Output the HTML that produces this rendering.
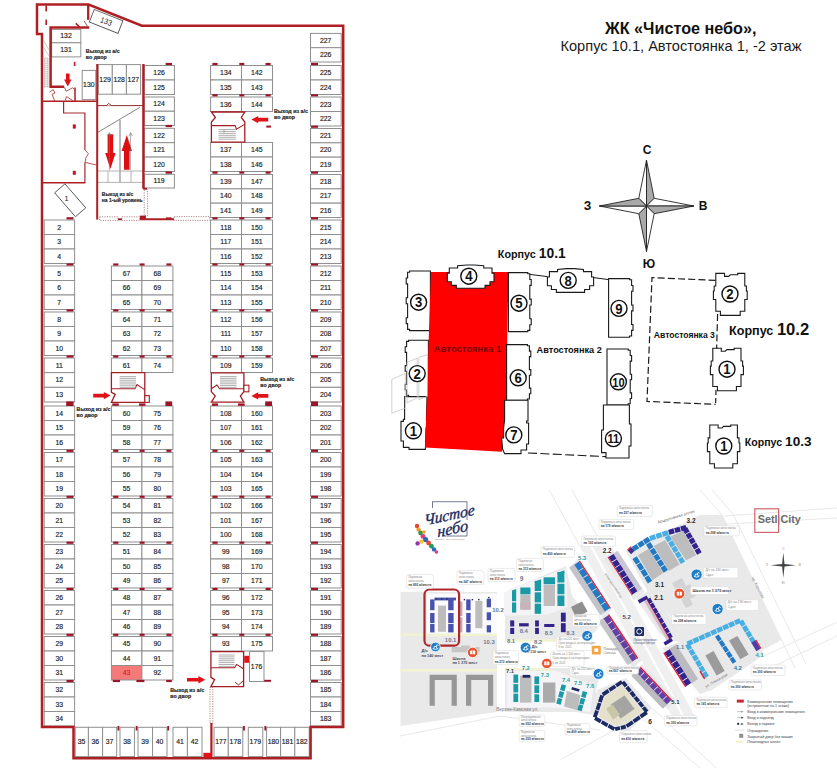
<!DOCTYPE html>
<html lang="ru">
<head>
<meta charset="utf-8">
<title>ЖК «Чистое небо» — Корпус 10.1, Автостоянка 1, -2 этаж</title>
<style>
html,body{margin:0;padding:0;background:#fff;}
body{width:837px;height:768px;overflow:hidden;font-family:"Liberation Sans", sans-serif;}
svg{display:block;}
svg text{font-family:"Liberation Sans", sans-serif;}
</style>
</head>
<body>
<svg width="837" height="768" viewBox="0 0 837 768">
<rect width="837" height="768" fill="#fff"/>
<g id="plan">
<rect x="44.2" y="220" width="30.4" height="14.5" fill="#fff" stroke="#8f8f8f" stroke-width="1" />
<text transform="translate(59.2 229.53) scale(0.86 1)" font-size="8" fill="#1c1c1c" font-weight="normal" text-anchor="middle" stroke="#1c1c1c" stroke-width="0.18">2</text>
<rect x="44.2" y="234.5" width="30.4" height="14.5" fill="#fff" stroke="#8f8f8f" stroke-width="1" />
<text transform="translate(59.2 244.03) scale(0.86 1)" font-size="8" fill="#1c1c1c" font-weight="normal" text-anchor="middle" stroke="#1c1c1c" stroke-width="0.18">3</text>
<rect x="44.2" y="249" width="30.4" height="14.5" fill="#fff" stroke="#8f8f8f" stroke-width="1" />
<text transform="translate(59.2 258.53) scale(0.86 1)" font-size="8" fill="#1c1c1c" font-weight="normal" text-anchor="middle" stroke="#1c1c1c" stroke-width="0.18">4</text>
<rect x="44.2" y="266" width="30.4" height="14.5" fill="#fff" stroke="#8f8f8f" stroke-width="1" />
<text transform="translate(59.2 275.53) scale(0.86 1)" font-size="8" fill="#1c1c1c" font-weight="normal" text-anchor="middle" stroke="#1c1c1c" stroke-width="0.18">5</text>
<rect x="44.2" y="280.5" width="30.4" height="14.5" fill="#fff" stroke="#8f8f8f" stroke-width="1" />
<text transform="translate(59.2 290.03) scale(0.86 1)" font-size="8" fill="#1c1c1c" font-weight="normal" text-anchor="middle" stroke="#1c1c1c" stroke-width="0.18">6</text>
<rect x="44.2" y="295" width="30.4" height="14.5" fill="#fff" stroke="#8f8f8f" stroke-width="1" />
<text transform="translate(59.2 304.53) scale(0.86 1)" font-size="8" fill="#1c1c1c" font-weight="normal" text-anchor="middle" stroke="#1c1c1c" stroke-width="0.18">7</text>
<rect x="44.2" y="312" width="30.4" height="14.5" fill="#fff" stroke="#8f8f8f" stroke-width="1" />
<text transform="translate(59.2 321.53) scale(0.86 1)" font-size="8" fill="#1c1c1c" font-weight="normal" text-anchor="middle" stroke="#1c1c1c" stroke-width="0.18">8</text>
<rect x="44.2" y="326.5" width="30.4" height="14.5" fill="#fff" stroke="#8f8f8f" stroke-width="1" />
<text transform="translate(59.2 336.03) scale(0.86 1)" font-size="8" fill="#1c1c1c" font-weight="normal" text-anchor="middle" stroke="#1c1c1c" stroke-width="0.18">9</text>
<rect x="44.2" y="341" width="30.4" height="14.5" fill="#fff" stroke="#8f8f8f" stroke-width="1" />
<text transform="translate(59.2 350.53) scale(0.86 1)" font-size="8" fill="#1c1c1c" font-weight="normal" text-anchor="middle" stroke="#1c1c1c" stroke-width="0.18">10</text>
<rect x="44.2" y="358" width="30.4" height="14.67" fill="#fff" stroke="#8f8f8f" stroke-width="1" />
<text transform="translate(59.2 367.61) scale(0.86 1)" font-size="8" fill="#1c1c1c" font-weight="normal" text-anchor="middle" stroke="#1c1c1c" stroke-width="0.18">11</text>
<rect x="44.2" y="372.67" width="30.4" height="14.67" fill="#fff" stroke="#8f8f8f" stroke-width="1" />
<text transform="translate(59.2 382.28) scale(0.86 1)" font-size="8" fill="#1c1c1c" font-weight="normal" text-anchor="middle" stroke="#1c1c1c" stroke-width="0.18">12</text>
<rect x="44.2" y="387.33" width="30.4" height="14.67" fill="#fff" stroke="#8f8f8f" stroke-width="1" />
<text transform="translate(59.2 396.95) scale(0.86 1)" font-size="8" fill="#1c1c1c" font-weight="normal" text-anchor="middle" stroke="#1c1c1c" stroke-width="0.18">13</text>
<rect x="44.2" y="406" width="30.4" height="14.5" fill="#fff" stroke="#8f8f8f" stroke-width="1" />
<text transform="translate(59.2 415.53) scale(0.86 1)" font-size="8" fill="#1c1c1c" font-weight="normal" text-anchor="middle" stroke="#1c1c1c" stroke-width="0.18">14</text>
<rect x="44.2" y="420.5" width="30.4" height="14.5" fill="#fff" stroke="#8f8f8f" stroke-width="1" />
<text transform="translate(59.2 430.03) scale(0.86 1)" font-size="8" fill="#1c1c1c" font-weight="normal" text-anchor="middle" stroke="#1c1c1c" stroke-width="0.18">15</text>
<rect x="44.2" y="435" width="30.4" height="14.5" fill="#fff" stroke="#8f8f8f" stroke-width="1" />
<text transform="translate(59.2 444.53) scale(0.86 1)" font-size="8" fill="#1c1c1c" font-weight="normal" text-anchor="middle" stroke="#1c1c1c" stroke-width="0.18">16</text>
<rect x="44.2" y="452.5" width="30.4" height="14.5" fill="#fff" stroke="#8f8f8f" stroke-width="1" />
<text transform="translate(59.2 462.03) scale(0.86 1)" font-size="8" fill="#1c1c1c" font-weight="normal" text-anchor="middle" stroke="#1c1c1c" stroke-width="0.18">17</text>
<rect x="44.2" y="467" width="30.4" height="14.5" fill="#fff" stroke="#8f8f8f" stroke-width="1" />
<text transform="translate(59.2 476.53) scale(0.86 1)" font-size="8" fill="#1c1c1c" font-weight="normal" text-anchor="middle" stroke="#1c1c1c" stroke-width="0.18">18</text>
<rect x="44.2" y="481.5" width="30.4" height="14.5" fill="#fff" stroke="#8f8f8f" stroke-width="1" />
<text transform="translate(59.2 491.03) scale(0.86 1)" font-size="8" fill="#1c1c1c" font-weight="normal" text-anchor="middle" stroke="#1c1c1c" stroke-width="0.18">19</text>
<rect x="44.2" y="498.5" width="30.4" height="14.5" fill="#fff" stroke="#8f8f8f" stroke-width="1" />
<text transform="translate(59.2 508.03) scale(0.86 1)" font-size="8" fill="#1c1c1c" font-weight="normal" text-anchor="middle" stroke="#1c1c1c" stroke-width="0.18">20</text>
<rect x="44.2" y="513" width="30.4" height="14.5" fill="#fff" stroke="#8f8f8f" stroke-width="1" />
<text transform="translate(59.2 522.53) scale(0.86 1)" font-size="8" fill="#1c1c1c" font-weight="normal" text-anchor="middle" stroke="#1c1c1c" stroke-width="0.18">21</text>
<rect x="44.2" y="527.5" width="30.4" height="14.5" fill="#fff" stroke="#8f8f8f" stroke-width="1" />
<text transform="translate(59.2 537.03) scale(0.86 1)" font-size="8" fill="#1c1c1c" font-weight="normal" text-anchor="middle" stroke="#1c1c1c" stroke-width="0.18">22</text>
<rect x="44.2" y="544.5" width="30.4" height="14.5" fill="#fff" stroke="#8f8f8f" stroke-width="1" />
<text transform="translate(59.2 554.03) scale(0.86 1)" font-size="8" fill="#1c1c1c" font-weight="normal" text-anchor="middle" stroke="#1c1c1c" stroke-width="0.18">23</text>
<rect x="44.2" y="559" width="30.4" height="14.5" fill="#fff" stroke="#8f8f8f" stroke-width="1" />
<text transform="translate(59.2 568.53) scale(0.86 1)" font-size="8" fill="#1c1c1c" font-weight="normal" text-anchor="middle" stroke="#1c1c1c" stroke-width="0.18">24</text>
<rect x="44.2" y="573.5" width="30.4" height="14.5" fill="#fff" stroke="#8f8f8f" stroke-width="1" />
<text transform="translate(59.2 583.03) scale(0.86 1)" font-size="8" fill="#1c1c1c" font-weight="normal" text-anchor="middle" stroke="#1c1c1c" stroke-width="0.18">25</text>
<rect x="44.2" y="590.5" width="30.4" height="14.5" fill="#fff" stroke="#8f8f8f" stroke-width="1" />
<text transform="translate(59.2 600.03) scale(0.86 1)" font-size="8" fill="#1c1c1c" font-weight="normal" text-anchor="middle" stroke="#1c1c1c" stroke-width="0.18">26</text>
<rect x="44.2" y="605" width="30.4" height="14.5" fill="#fff" stroke="#8f8f8f" stroke-width="1" />
<text transform="translate(59.2 614.53) scale(0.86 1)" font-size="8" fill="#1c1c1c" font-weight="normal" text-anchor="middle" stroke="#1c1c1c" stroke-width="0.18">27</text>
<rect x="44.2" y="619.5" width="30.4" height="14.5" fill="#fff" stroke="#8f8f8f" stroke-width="1" />
<text transform="translate(59.2 629.03) scale(0.86 1)" font-size="8" fill="#1c1c1c" font-weight="normal" text-anchor="middle" stroke="#1c1c1c" stroke-width="0.18">28</text>
<rect x="44.2" y="636.5" width="30.4" height="14.5" fill="#fff" stroke="#8f8f8f" stroke-width="1" />
<text transform="translate(59.2 646.03) scale(0.86 1)" font-size="8" fill="#1c1c1c" font-weight="normal" text-anchor="middle" stroke="#1c1c1c" stroke-width="0.18">29</text>
<rect x="44.2" y="651" width="30.4" height="14.5" fill="#fff" stroke="#8f8f8f" stroke-width="1" />
<text transform="translate(59.2 660.53) scale(0.86 1)" font-size="8" fill="#1c1c1c" font-weight="normal" text-anchor="middle" stroke="#1c1c1c" stroke-width="0.18">30</text>
<rect x="44.2" y="665.5" width="30.4" height="14.5" fill="#fff" stroke="#8f8f8f" stroke-width="1" />
<text transform="translate(59.2 675.03) scale(0.86 1)" font-size="8" fill="#1c1c1c" font-weight="normal" text-anchor="middle" stroke="#1c1c1c" stroke-width="0.18">31</text>
<rect x="44.2" y="682.5" width="30.4" height="14.5" fill="#fff" stroke="#8f8f8f" stroke-width="1" />
<text transform="translate(59.2 692.03) scale(0.86 1)" font-size="8" fill="#1c1c1c" font-weight="normal" text-anchor="middle" stroke="#1c1c1c" stroke-width="0.18">32</text>
<rect x="44.2" y="697" width="30.4" height="14.5" fill="#fff" stroke="#8f8f8f" stroke-width="1" />
<text transform="translate(59.2 706.53) scale(0.86 1)" font-size="8" fill="#1c1c1c" font-weight="normal" text-anchor="middle" stroke="#1c1c1c" stroke-width="0.18">33</text>
<rect x="44.2" y="711.5" width="30.4" height="14.5" fill="#fff" stroke="#8f8f8f" stroke-width="1" />
<text transform="translate(59.2 721.03) scale(0.86 1)" font-size="8" fill="#1c1c1c" font-weight="normal" text-anchor="middle" stroke="#1c1c1c" stroke-width="0.18">34</text>
<rect x="111.4" y="266" width="30.5" height="14.5" fill="#fff" stroke="#8f8f8f" stroke-width="1" />
<text transform="translate(126.45 275.53) scale(0.86 1)" font-size="8" fill="#1c1c1c" font-weight="normal" text-anchor="middle" stroke="#1c1c1c" stroke-width="0.18">67</text>
<rect x="141.9" y="266" width="31" height="14.5" fill="#fff" stroke="#8f8f8f" stroke-width="1" />
<text transform="translate(157.2 275.53) scale(0.86 1)" font-size="8" fill="#1c1c1c" font-weight="normal" text-anchor="middle" stroke="#1c1c1c" stroke-width="0.18">68</text>
<rect x="111.4" y="280.5" width="30.5" height="14.5" fill="#fff" stroke="#8f8f8f" stroke-width="1" />
<text transform="translate(126.45 290.03) scale(0.86 1)" font-size="8" fill="#1c1c1c" font-weight="normal" text-anchor="middle" stroke="#1c1c1c" stroke-width="0.18">66</text>
<rect x="141.9" y="280.5" width="31" height="14.5" fill="#fff" stroke="#8f8f8f" stroke-width="1" />
<text transform="translate(157.2 290.03) scale(0.86 1)" font-size="8" fill="#1c1c1c" font-weight="normal" text-anchor="middle" stroke="#1c1c1c" stroke-width="0.18">69</text>
<rect x="111.4" y="295" width="30.5" height="14.5" fill="#fff" stroke="#8f8f8f" stroke-width="1" />
<text transform="translate(126.45 304.53) scale(0.86 1)" font-size="8" fill="#1c1c1c" font-weight="normal" text-anchor="middle" stroke="#1c1c1c" stroke-width="0.18">65</text>
<rect x="141.9" y="295" width="31" height="14.5" fill="#fff" stroke="#8f8f8f" stroke-width="1" />
<text transform="translate(157.2 304.53) scale(0.86 1)" font-size="8" fill="#1c1c1c" font-weight="normal" text-anchor="middle" stroke="#1c1c1c" stroke-width="0.18">70</text>
<rect x="111.4" y="312" width="30.5" height="14.5" fill="#fff" stroke="#8f8f8f" stroke-width="1" />
<text transform="translate(126.45 321.53) scale(0.86 1)" font-size="8" fill="#1c1c1c" font-weight="normal" text-anchor="middle" stroke="#1c1c1c" stroke-width="0.18">64</text>
<rect x="141.9" y="312" width="31" height="14.5" fill="#fff" stroke="#8f8f8f" stroke-width="1" />
<text transform="translate(157.2 321.53) scale(0.86 1)" font-size="8" fill="#1c1c1c" font-weight="normal" text-anchor="middle" stroke="#1c1c1c" stroke-width="0.18">71</text>
<rect x="111.4" y="326.5" width="30.5" height="14.5" fill="#fff" stroke="#8f8f8f" stroke-width="1" />
<text transform="translate(126.45 336.03) scale(0.86 1)" font-size="8" fill="#1c1c1c" font-weight="normal" text-anchor="middle" stroke="#1c1c1c" stroke-width="0.18">63</text>
<rect x="141.9" y="326.5" width="31" height="14.5" fill="#fff" stroke="#8f8f8f" stroke-width="1" />
<text transform="translate(157.2 336.03) scale(0.86 1)" font-size="8" fill="#1c1c1c" font-weight="normal" text-anchor="middle" stroke="#1c1c1c" stroke-width="0.18">72</text>
<rect x="111.4" y="341" width="30.5" height="14.5" fill="#fff" stroke="#8f8f8f" stroke-width="1" />
<text transform="translate(126.45 350.53) scale(0.86 1)" font-size="8" fill="#1c1c1c" font-weight="normal" text-anchor="middle" stroke="#1c1c1c" stroke-width="0.18">62</text>
<rect x="141.9" y="341" width="31" height="14.5" fill="#fff" stroke="#8f8f8f" stroke-width="1" />
<text transform="translate(157.2 350.53) scale(0.86 1)" font-size="8" fill="#1c1c1c" font-weight="normal" text-anchor="middle" stroke="#1c1c1c" stroke-width="0.18">73</text>
<rect x="111.4" y="358" width="30.5" height="14.5" fill="#fff" stroke="#8f8f8f" stroke-width="1" />
<text transform="translate(126.45 367.53) scale(0.86 1)" font-size="8" fill="#1c1c1c" font-weight="normal" text-anchor="middle" stroke="#1c1c1c" stroke-width="0.18">61</text>
<rect x="141.9" y="358" width="31" height="14.5" fill="#fff" stroke="#8f8f8f" stroke-width="1" />
<text transform="translate(157.2 367.53) scale(0.86 1)" font-size="8" fill="#1c1c1c" font-weight="normal" text-anchor="middle" stroke="#1c1c1c" stroke-width="0.18">74</text>
<rect x="111.4" y="406" width="30.5" height="14.5" fill="#fff" stroke="#8f8f8f" stroke-width="1" />
<text transform="translate(126.45 415.53) scale(0.86 1)" font-size="8" fill="#1c1c1c" font-weight="normal" text-anchor="middle" stroke="#1c1c1c" stroke-width="0.18">60</text>
<rect x="141.9" y="406" width="31" height="14.5" fill="#fff" stroke="#8f8f8f" stroke-width="1" />
<text transform="translate(157.2 415.53) scale(0.86 1)" font-size="8" fill="#1c1c1c" font-weight="normal" text-anchor="middle" stroke="#1c1c1c" stroke-width="0.18">75</text>
<rect x="111.4" y="420.5" width="30.5" height="14.5" fill="#fff" stroke="#8f8f8f" stroke-width="1" />
<text transform="translate(126.45 430.03) scale(0.86 1)" font-size="8" fill="#1c1c1c" font-weight="normal" text-anchor="middle" stroke="#1c1c1c" stroke-width="0.18">59</text>
<rect x="141.9" y="420.5" width="31" height="14.5" fill="#fff" stroke="#8f8f8f" stroke-width="1" />
<text transform="translate(157.2 430.03) scale(0.86 1)" font-size="8" fill="#1c1c1c" font-weight="normal" text-anchor="middle" stroke="#1c1c1c" stroke-width="0.18">76</text>
<rect x="111.4" y="435" width="30.5" height="14.5" fill="#fff" stroke="#8f8f8f" stroke-width="1" />
<text transform="translate(126.45 444.53) scale(0.86 1)" font-size="8" fill="#1c1c1c" font-weight="normal" text-anchor="middle" stroke="#1c1c1c" stroke-width="0.18">58</text>
<rect x="141.9" y="435" width="31" height="14.5" fill="#fff" stroke="#8f8f8f" stroke-width="1" />
<text transform="translate(157.2 444.53) scale(0.86 1)" font-size="8" fill="#1c1c1c" font-weight="normal" text-anchor="middle" stroke="#1c1c1c" stroke-width="0.18">77</text>
<rect x="111.4" y="452.5" width="30.5" height="14.5" fill="#fff" stroke="#8f8f8f" stroke-width="1" />
<text transform="translate(126.45 462.03) scale(0.86 1)" font-size="8" fill="#1c1c1c" font-weight="normal" text-anchor="middle" stroke="#1c1c1c" stroke-width="0.18">57</text>
<rect x="141.9" y="452.5" width="31" height="14.5" fill="#fff" stroke="#8f8f8f" stroke-width="1" />
<text transform="translate(157.2 462.03) scale(0.86 1)" font-size="8" fill="#1c1c1c" font-weight="normal" text-anchor="middle" stroke="#1c1c1c" stroke-width="0.18">78</text>
<rect x="111.4" y="467" width="30.5" height="14.5" fill="#fff" stroke="#8f8f8f" stroke-width="1" />
<text transform="translate(126.45 476.53) scale(0.86 1)" font-size="8" fill="#1c1c1c" font-weight="normal" text-anchor="middle" stroke="#1c1c1c" stroke-width="0.18">56</text>
<rect x="141.9" y="467" width="31" height="14.5" fill="#fff" stroke="#8f8f8f" stroke-width="1" />
<text transform="translate(157.2 476.53) scale(0.86 1)" font-size="8" fill="#1c1c1c" font-weight="normal" text-anchor="middle" stroke="#1c1c1c" stroke-width="0.18">79</text>
<rect x="111.4" y="481.5" width="30.5" height="14.5" fill="#fff" stroke="#8f8f8f" stroke-width="1" />
<text transform="translate(126.45 491.03) scale(0.86 1)" font-size="8" fill="#1c1c1c" font-weight="normal" text-anchor="middle" stroke="#1c1c1c" stroke-width="0.18">55</text>
<rect x="141.9" y="481.5" width="31" height="14.5" fill="#fff" stroke="#8f8f8f" stroke-width="1" />
<text transform="translate(157.2 491.03) scale(0.86 1)" font-size="8" fill="#1c1c1c" font-weight="normal" text-anchor="middle" stroke="#1c1c1c" stroke-width="0.18">80</text>
<rect x="111.4" y="498.5" width="30.5" height="14.5" fill="#fff" stroke="#8f8f8f" stroke-width="1" />
<text transform="translate(126.45 508.03) scale(0.86 1)" font-size="8" fill="#1c1c1c" font-weight="normal" text-anchor="middle" stroke="#1c1c1c" stroke-width="0.18">54</text>
<rect x="141.9" y="498.5" width="31" height="14.5" fill="#fff" stroke="#8f8f8f" stroke-width="1" />
<text transform="translate(157.2 508.03) scale(0.86 1)" font-size="8" fill="#1c1c1c" font-weight="normal" text-anchor="middle" stroke="#1c1c1c" stroke-width="0.18">81</text>
<rect x="111.4" y="513" width="30.5" height="14.5" fill="#fff" stroke="#8f8f8f" stroke-width="1" />
<text transform="translate(126.45 522.53) scale(0.86 1)" font-size="8" fill="#1c1c1c" font-weight="normal" text-anchor="middle" stroke="#1c1c1c" stroke-width="0.18">53</text>
<rect x="141.9" y="513" width="31" height="14.5" fill="#fff" stroke="#8f8f8f" stroke-width="1" />
<text transform="translate(157.2 522.53) scale(0.86 1)" font-size="8" fill="#1c1c1c" font-weight="normal" text-anchor="middle" stroke="#1c1c1c" stroke-width="0.18">82</text>
<rect x="111.4" y="527.5" width="30.5" height="14.5" fill="#fff" stroke="#8f8f8f" stroke-width="1" />
<text transform="translate(126.45 537.03) scale(0.86 1)" font-size="8" fill="#1c1c1c" font-weight="normal" text-anchor="middle" stroke="#1c1c1c" stroke-width="0.18">52</text>
<rect x="141.9" y="527.5" width="31" height="14.5" fill="#fff" stroke="#8f8f8f" stroke-width="1" />
<text transform="translate(157.2 537.03) scale(0.86 1)" font-size="8" fill="#1c1c1c" font-weight="normal" text-anchor="middle" stroke="#1c1c1c" stroke-width="0.18">83</text>
<rect x="111.4" y="544.5" width="30.5" height="14.5" fill="#fff" stroke="#8f8f8f" stroke-width="1" />
<text transform="translate(126.45 554.03) scale(0.86 1)" font-size="8" fill="#1c1c1c" font-weight="normal" text-anchor="middle" stroke="#1c1c1c" stroke-width="0.18">51</text>
<rect x="141.9" y="544.5" width="31" height="14.5" fill="#fff" stroke="#8f8f8f" stroke-width="1" />
<text transform="translate(157.2 554.03) scale(0.86 1)" font-size="8" fill="#1c1c1c" font-weight="normal" text-anchor="middle" stroke="#1c1c1c" stroke-width="0.18">84</text>
<rect x="111.4" y="559" width="30.5" height="14.5" fill="#fff" stroke="#8f8f8f" stroke-width="1" />
<text transform="translate(126.45 568.53) scale(0.86 1)" font-size="8" fill="#1c1c1c" font-weight="normal" text-anchor="middle" stroke="#1c1c1c" stroke-width="0.18">50</text>
<rect x="141.9" y="559" width="31" height="14.5" fill="#fff" stroke="#8f8f8f" stroke-width="1" />
<text transform="translate(157.2 568.53) scale(0.86 1)" font-size="8" fill="#1c1c1c" font-weight="normal" text-anchor="middle" stroke="#1c1c1c" stroke-width="0.18">85</text>
<rect x="111.4" y="573.5" width="30.5" height="14.5" fill="#fff" stroke="#8f8f8f" stroke-width="1" />
<text transform="translate(126.45 583.03) scale(0.86 1)" font-size="8" fill="#1c1c1c" font-weight="normal" text-anchor="middle" stroke="#1c1c1c" stroke-width="0.18">49</text>
<rect x="141.9" y="573.5" width="31" height="14.5" fill="#fff" stroke="#8f8f8f" stroke-width="1" />
<text transform="translate(157.2 583.03) scale(0.86 1)" font-size="8" fill="#1c1c1c" font-weight="normal" text-anchor="middle" stroke="#1c1c1c" stroke-width="0.18">86</text>
<rect x="111.4" y="590.5" width="30.5" height="14.5" fill="#fff" stroke="#8f8f8f" stroke-width="1" />
<text transform="translate(126.45 600.03) scale(0.86 1)" font-size="8" fill="#1c1c1c" font-weight="normal" text-anchor="middle" stroke="#1c1c1c" stroke-width="0.18">48</text>
<rect x="141.9" y="590.5" width="31" height="14.5" fill="#fff" stroke="#8f8f8f" stroke-width="1" />
<text transform="translate(157.2 600.03) scale(0.86 1)" font-size="8" fill="#1c1c1c" font-weight="normal" text-anchor="middle" stroke="#1c1c1c" stroke-width="0.18">87</text>
<rect x="111.4" y="605" width="30.5" height="14.5" fill="#fff" stroke="#8f8f8f" stroke-width="1" />
<text transform="translate(126.45 614.53) scale(0.86 1)" font-size="8" fill="#1c1c1c" font-weight="normal" text-anchor="middle" stroke="#1c1c1c" stroke-width="0.18">47</text>
<rect x="141.9" y="605" width="31" height="14.5" fill="#fff" stroke="#8f8f8f" stroke-width="1" />
<text transform="translate(157.2 614.53) scale(0.86 1)" font-size="8" fill="#1c1c1c" font-weight="normal" text-anchor="middle" stroke="#1c1c1c" stroke-width="0.18">88</text>
<rect x="111.4" y="619.5" width="30.5" height="14.5" fill="#fff" stroke="#8f8f8f" stroke-width="1" />
<text transform="translate(126.45 629.03) scale(0.86 1)" font-size="8" fill="#1c1c1c" font-weight="normal" text-anchor="middle" stroke="#1c1c1c" stroke-width="0.18">46</text>
<rect x="141.9" y="619.5" width="31" height="14.5" fill="#fff" stroke="#8f8f8f" stroke-width="1" />
<text transform="translate(157.2 629.03) scale(0.86 1)" font-size="8" fill="#1c1c1c" font-weight="normal" text-anchor="middle" stroke="#1c1c1c" stroke-width="0.18">89</text>
<rect x="111.4" y="636.5" width="30.5" height="14.5" fill="#fff" stroke="#8f8f8f" stroke-width="1" />
<text transform="translate(126.45 646.03) scale(0.86 1)" font-size="8" fill="#1c1c1c" font-weight="normal" text-anchor="middle" stroke="#1c1c1c" stroke-width="0.18">45</text>
<rect x="141.9" y="636.5" width="31" height="14.5" fill="#fff" stroke="#8f8f8f" stroke-width="1" />
<text transform="translate(157.2 646.03) scale(0.86 1)" font-size="8" fill="#1c1c1c" font-weight="normal" text-anchor="middle" stroke="#1c1c1c" stroke-width="0.18">90</text>
<rect x="111.4" y="651" width="30.5" height="14.5" fill="#fff" stroke="#8f8f8f" stroke-width="1" />
<text transform="translate(126.45 660.53) scale(0.86 1)" font-size="8" fill="#1c1c1c" font-weight="normal" text-anchor="middle" stroke="#1c1c1c" stroke-width="0.18">44</text>
<rect x="141.9" y="651" width="31" height="14.5" fill="#fff" stroke="#8f8f8f" stroke-width="1" />
<text transform="translate(157.2 660.53) scale(0.86 1)" font-size="8" fill="#1c1c1c" font-weight="normal" text-anchor="middle" stroke="#1c1c1c" stroke-width="0.18">91</text>
<rect x="111.4" y="665.5" width="30.5" height="14.5" fill="#f47a7a" stroke="#8f8f8f" stroke-width="1" />
<text transform="translate(126.45 675.03) scale(0.86 1)" font-size="8" fill="#d8232a" font-weight="normal" text-anchor="middle" stroke="#d8232a" stroke-width="0.18">43</text>
<rect x="141.9" y="665.5" width="31" height="14.5" fill="#fff" stroke="#8f8f8f" stroke-width="1" />
<text transform="translate(157.2 675.03) scale(0.86 1)" font-size="8" fill="#1c1c1c" font-weight="normal" text-anchor="middle" stroke="#1c1c1c" stroke-width="0.18">92</text>
<rect x="210.6" y="65.5" width="30.9" height="14.5" fill="#fff" stroke="#8f8f8f" stroke-width="1" />
<text transform="translate(225.85 75.03) scale(0.86 1)" font-size="8" fill="#1c1c1c" font-weight="normal" text-anchor="middle" stroke="#1c1c1c" stroke-width="0.18">134</text>
<rect x="241.5" y="65.5" width="31" height="14.5" fill="#fff" stroke="#8f8f8f" stroke-width="1" />
<text transform="translate(256.8 75.03) scale(0.86 1)" font-size="8" fill="#1c1c1c" font-weight="normal" text-anchor="middle" stroke="#1c1c1c" stroke-width="0.18">142</text>
<rect x="210.6" y="80" width="30.9" height="14.5" fill="#fff" stroke="#8f8f8f" stroke-width="1" />
<text transform="translate(225.85 89.53) scale(0.86 1)" font-size="8" fill="#1c1c1c" font-weight="normal" text-anchor="middle" stroke="#1c1c1c" stroke-width="0.18">135</text>
<rect x="241.5" y="80" width="31" height="14.5" fill="#fff" stroke="#8f8f8f" stroke-width="1" />
<text transform="translate(256.8 89.53) scale(0.86 1)" font-size="8" fill="#1c1c1c" font-weight="normal" text-anchor="middle" stroke="#1c1c1c" stroke-width="0.18">143</text>
<rect x="210.6" y="97" width="30.9" height="14.5" fill="#fff" stroke="#8f8f8f" stroke-width="1" />
<text transform="translate(225.85 106.53) scale(0.86 1)" font-size="8" fill="#1c1c1c" font-weight="normal" text-anchor="middle" stroke="#1c1c1c" stroke-width="0.18">136</text>
<rect x="241.5" y="97" width="31" height="14.5" fill="#fff" stroke="#8f8f8f" stroke-width="1" />
<text transform="translate(256.8 106.53) scale(0.86 1)" font-size="8" fill="#1c1c1c" font-weight="normal" text-anchor="middle" stroke="#1c1c1c" stroke-width="0.18">144</text>
<rect x="210.6" y="142.5" width="30.9" height="14.5" fill="#fff" stroke="#8f8f8f" stroke-width="1" />
<text transform="translate(225.85 152.03) scale(0.86 1)" font-size="8" fill="#1c1c1c" font-weight="normal" text-anchor="middle" stroke="#1c1c1c" stroke-width="0.18">137</text>
<rect x="241.5" y="142.5" width="31" height="14.5" fill="#fff" stroke="#8f8f8f" stroke-width="1" />
<text transform="translate(256.8 152.03) scale(0.86 1)" font-size="8" fill="#1c1c1c" font-weight="normal" text-anchor="middle" stroke="#1c1c1c" stroke-width="0.18">145</text>
<rect x="210.6" y="157" width="30.9" height="14.5" fill="#fff" stroke="#8f8f8f" stroke-width="1" />
<text transform="translate(225.85 166.53) scale(0.86 1)" font-size="8" fill="#1c1c1c" font-weight="normal" text-anchor="middle" stroke="#1c1c1c" stroke-width="0.18">138</text>
<rect x="241.5" y="157" width="31" height="14.5" fill="#fff" stroke="#8f8f8f" stroke-width="1" />
<text transform="translate(256.8 166.53) scale(0.86 1)" font-size="8" fill="#1c1c1c" font-weight="normal" text-anchor="middle" stroke="#1c1c1c" stroke-width="0.18">146</text>
<rect x="210.6" y="174.5" width="30.9" height="14.33" fill="#fff" stroke="#8f8f8f" stroke-width="1" />
<text transform="translate(225.85 183.95) scale(0.86 1)" font-size="8" fill="#1c1c1c" font-weight="normal" text-anchor="middle" stroke="#1c1c1c" stroke-width="0.18">139</text>
<rect x="241.5" y="174.5" width="31" height="14.33" fill="#fff" stroke="#8f8f8f" stroke-width="1" />
<text transform="translate(256.8 183.95) scale(0.86 1)" font-size="8" fill="#1c1c1c" font-weight="normal" text-anchor="middle" stroke="#1c1c1c" stroke-width="0.18">147</text>
<rect x="210.6" y="188.83" width="30.9" height="14.33" fill="#fff" stroke="#8f8f8f" stroke-width="1" />
<text transform="translate(225.85 198.28) scale(0.86 1)" font-size="8" fill="#1c1c1c" font-weight="normal" text-anchor="middle" stroke="#1c1c1c" stroke-width="0.18">140</text>
<rect x="241.5" y="188.83" width="31" height="14.33" fill="#fff" stroke="#8f8f8f" stroke-width="1" />
<text transform="translate(256.8 198.28) scale(0.86 1)" font-size="8" fill="#1c1c1c" font-weight="normal" text-anchor="middle" stroke="#1c1c1c" stroke-width="0.18">148</text>
<rect x="210.6" y="203.17" width="30.9" height="14.33" fill="#fff" stroke="#8f8f8f" stroke-width="1" />
<text transform="translate(225.85 212.61) scale(0.86 1)" font-size="8" fill="#1c1c1c" font-weight="normal" text-anchor="middle" stroke="#1c1c1c" stroke-width="0.18">141</text>
<rect x="241.5" y="203.17" width="31" height="14.33" fill="#fff" stroke="#8f8f8f" stroke-width="1" />
<text transform="translate(256.8 212.61) scale(0.86 1)" font-size="8" fill="#1c1c1c" font-weight="normal" text-anchor="middle" stroke="#1c1c1c" stroke-width="0.18">149</text>
<rect x="210.6" y="220" width="30.9" height="14.5" fill="#fff" stroke="#8f8f8f" stroke-width="1" />
<text transform="translate(225.85 229.53) scale(0.86 1)" font-size="8" fill="#1c1c1c" font-weight="normal" text-anchor="middle" stroke="#1c1c1c" stroke-width="0.18">118</text>
<rect x="241.5" y="220" width="31" height="14.5" fill="#fff" stroke="#8f8f8f" stroke-width="1" />
<text transform="translate(256.8 229.53) scale(0.86 1)" font-size="8" fill="#1c1c1c" font-weight="normal" text-anchor="middle" stroke="#1c1c1c" stroke-width="0.18">150</text>
<rect x="210.6" y="234.5" width="30.9" height="14.5" fill="#fff" stroke="#8f8f8f" stroke-width="1" />
<text transform="translate(225.85 244.03) scale(0.86 1)" font-size="8" fill="#1c1c1c" font-weight="normal" text-anchor="middle" stroke="#1c1c1c" stroke-width="0.18">117</text>
<rect x="241.5" y="234.5" width="31" height="14.5" fill="#fff" stroke="#8f8f8f" stroke-width="1" />
<text transform="translate(256.8 244.03) scale(0.86 1)" font-size="8" fill="#1c1c1c" font-weight="normal" text-anchor="middle" stroke="#1c1c1c" stroke-width="0.18">151</text>
<rect x="210.6" y="249" width="30.9" height="14.5" fill="#fff" stroke="#8f8f8f" stroke-width="1" />
<text transform="translate(225.85 258.53) scale(0.86 1)" font-size="8" fill="#1c1c1c" font-weight="normal" text-anchor="middle" stroke="#1c1c1c" stroke-width="0.18">116</text>
<rect x="241.5" y="249" width="31" height="14.5" fill="#fff" stroke="#8f8f8f" stroke-width="1" />
<text transform="translate(256.8 258.53) scale(0.86 1)" font-size="8" fill="#1c1c1c" font-weight="normal" text-anchor="middle" stroke="#1c1c1c" stroke-width="0.18">152</text>
<rect x="210.6" y="266" width="30.9" height="14.5" fill="#fff" stroke="#8f8f8f" stroke-width="1" />
<text transform="translate(225.85 275.53) scale(0.86 1)" font-size="8" fill="#1c1c1c" font-weight="normal" text-anchor="middle" stroke="#1c1c1c" stroke-width="0.18">115</text>
<rect x="241.5" y="266" width="31" height="14.5" fill="#fff" stroke="#8f8f8f" stroke-width="1" />
<text transform="translate(256.8 275.53) scale(0.86 1)" font-size="8" fill="#1c1c1c" font-weight="normal" text-anchor="middle" stroke="#1c1c1c" stroke-width="0.18">153</text>
<rect x="210.6" y="280.5" width="30.9" height="14.5" fill="#fff" stroke="#8f8f8f" stroke-width="1" />
<text transform="translate(225.85 290.03) scale(0.86 1)" font-size="8" fill="#1c1c1c" font-weight="normal" text-anchor="middle" stroke="#1c1c1c" stroke-width="0.18">114</text>
<rect x="241.5" y="280.5" width="31" height="14.5" fill="#fff" stroke="#8f8f8f" stroke-width="1" />
<text transform="translate(256.8 290.03) scale(0.86 1)" font-size="8" fill="#1c1c1c" font-weight="normal" text-anchor="middle" stroke="#1c1c1c" stroke-width="0.18">154</text>
<rect x="210.6" y="295" width="30.9" height="14.5" fill="#fff" stroke="#8f8f8f" stroke-width="1" />
<text transform="translate(225.85 304.53) scale(0.86 1)" font-size="8" fill="#1c1c1c" font-weight="normal" text-anchor="middle" stroke="#1c1c1c" stroke-width="0.18">113</text>
<rect x="241.5" y="295" width="31" height="14.5" fill="#fff" stroke="#8f8f8f" stroke-width="1" />
<text transform="translate(256.8 304.53) scale(0.86 1)" font-size="8" fill="#1c1c1c" font-weight="normal" text-anchor="middle" stroke="#1c1c1c" stroke-width="0.18">155</text>
<rect x="210.6" y="312" width="30.9" height="14.5" fill="#fff" stroke="#8f8f8f" stroke-width="1" />
<text transform="translate(225.85 321.53) scale(0.86 1)" font-size="8" fill="#1c1c1c" font-weight="normal" text-anchor="middle" stroke="#1c1c1c" stroke-width="0.18">112</text>
<rect x="241.5" y="312" width="31" height="14.5" fill="#fff" stroke="#8f8f8f" stroke-width="1" />
<text transform="translate(256.8 321.53) scale(0.86 1)" font-size="8" fill="#1c1c1c" font-weight="normal" text-anchor="middle" stroke="#1c1c1c" stroke-width="0.18">156</text>
<rect x="210.6" y="326.5" width="30.9" height="14.5" fill="#fff" stroke="#8f8f8f" stroke-width="1" />
<text transform="translate(225.85 336.03) scale(0.86 1)" font-size="8" fill="#1c1c1c" font-weight="normal" text-anchor="middle" stroke="#1c1c1c" stroke-width="0.18">111</text>
<rect x="241.5" y="326.5" width="31" height="14.5" fill="#fff" stroke="#8f8f8f" stroke-width="1" />
<text transform="translate(256.8 336.03) scale(0.86 1)" font-size="8" fill="#1c1c1c" font-weight="normal" text-anchor="middle" stroke="#1c1c1c" stroke-width="0.18">157</text>
<rect x="210.6" y="341" width="30.9" height="14.5" fill="#fff" stroke="#8f8f8f" stroke-width="1" />
<text transform="translate(225.85 350.53) scale(0.86 1)" font-size="8" fill="#1c1c1c" font-weight="normal" text-anchor="middle" stroke="#1c1c1c" stroke-width="0.18">110</text>
<rect x="241.5" y="341" width="31" height="14.5" fill="#fff" stroke="#8f8f8f" stroke-width="1" />
<text transform="translate(256.8 350.53) scale(0.86 1)" font-size="8" fill="#1c1c1c" font-weight="normal" text-anchor="middle" stroke="#1c1c1c" stroke-width="0.18">158</text>
<rect x="210.6" y="358" width="30.9" height="14.5" fill="#fff" stroke="#8f8f8f" stroke-width="1" />
<text transform="translate(225.85 367.53) scale(0.86 1)" font-size="8" fill="#1c1c1c" font-weight="normal" text-anchor="middle" stroke="#1c1c1c" stroke-width="0.18">109</text>
<rect x="241.5" y="358" width="31" height="14.5" fill="#fff" stroke="#8f8f8f" stroke-width="1" />
<text transform="translate(256.8 367.53) scale(0.86 1)" font-size="8" fill="#1c1c1c" font-weight="normal" text-anchor="middle" stroke="#1c1c1c" stroke-width="0.18">159</text>
<rect x="210.6" y="406" width="30.9" height="14.5" fill="#fff" stroke="#8f8f8f" stroke-width="1" />
<text transform="translate(225.85 415.53) scale(0.86 1)" font-size="8" fill="#1c1c1c" font-weight="normal" text-anchor="middle" stroke="#1c1c1c" stroke-width="0.18">108</text>
<rect x="241.5" y="406" width="31" height="14.5" fill="#fff" stroke="#8f8f8f" stroke-width="1" />
<text transform="translate(256.8 415.53) scale(0.86 1)" font-size="8" fill="#1c1c1c" font-weight="normal" text-anchor="middle" stroke="#1c1c1c" stroke-width="0.18">160</text>
<rect x="210.6" y="420.5" width="30.9" height="14.5" fill="#fff" stroke="#8f8f8f" stroke-width="1" />
<text transform="translate(225.85 430.03) scale(0.86 1)" font-size="8" fill="#1c1c1c" font-weight="normal" text-anchor="middle" stroke="#1c1c1c" stroke-width="0.18">107</text>
<rect x="241.5" y="420.5" width="31" height="14.5" fill="#fff" stroke="#8f8f8f" stroke-width="1" />
<text transform="translate(256.8 430.03) scale(0.86 1)" font-size="8" fill="#1c1c1c" font-weight="normal" text-anchor="middle" stroke="#1c1c1c" stroke-width="0.18">161</text>
<rect x="210.6" y="435" width="30.9" height="14.5" fill="#fff" stroke="#8f8f8f" stroke-width="1" />
<text transform="translate(225.85 444.53) scale(0.86 1)" font-size="8" fill="#1c1c1c" font-weight="normal" text-anchor="middle" stroke="#1c1c1c" stroke-width="0.18">106</text>
<rect x="241.5" y="435" width="31" height="14.5" fill="#fff" stroke="#8f8f8f" stroke-width="1" />
<text transform="translate(256.8 444.53) scale(0.86 1)" font-size="8" fill="#1c1c1c" font-weight="normal" text-anchor="middle" stroke="#1c1c1c" stroke-width="0.18">162</text>
<rect x="210.6" y="452.5" width="30.9" height="14.5" fill="#fff" stroke="#8f8f8f" stroke-width="1" />
<text transform="translate(225.85 462.03) scale(0.86 1)" font-size="8" fill="#1c1c1c" font-weight="normal" text-anchor="middle" stroke="#1c1c1c" stroke-width="0.18">105</text>
<rect x="241.5" y="452.5" width="31" height="14.5" fill="#fff" stroke="#8f8f8f" stroke-width="1" />
<text transform="translate(256.8 462.03) scale(0.86 1)" font-size="8" fill="#1c1c1c" font-weight="normal" text-anchor="middle" stroke="#1c1c1c" stroke-width="0.18">163</text>
<rect x="210.6" y="467" width="30.9" height="14.5" fill="#fff" stroke="#8f8f8f" stroke-width="1" />
<text transform="translate(225.85 476.53) scale(0.86 1)" font-size="8" fill="#1c1c1c" font-weight="normal" text-anchor="middle" stroke="#1c1c1c" stroke-width="0.18">104</text>
<rect x="241.5" y="467" width="31" height="14.5" fill="#fff" stroke="#8f8f8f" stroke-width="1" />
<text transform="translate(256.8 476.53) scale(0.86 1)" font-size="8" fill="#1c1c1c" font-weight="normal" text-anchor="middle" stroke="#1c1c1c" stroke-width="0.18">164</text>
<rect x="210.6" y="481.5" width="30.9" height="14.5" fill="#fff" stroke="#8f8f8f" stroke-width="1" />
<text transform="translate(225.85 491.03) scale(0.86 1)" font-size="8" fill="#1c1c1c" font-weight="normal" text-anchor="middle" stroke="#1c1c1c" stroke-width="0.18">103</text>
<rect x="241.5" y="481.5" width="31" height="14.5" fill="#fff" stroke="#8f8f8f" stroke-width="1" />
<text transform="translate(256.8 491.03) scale(0.86 1)" font-size="8" fill="#1c1c1c" font-weight="normal" text-anchor="middle" stroke="#1c1c1c" stroke-width="0.18">165</text>
<rect x="210.6" y="498.5" width="30.9" height="14.5" fill="#fff" stroke="#8f8f8f" stroke-width="1" />
<text transform="translate(225.85 508.03) scale(0.86 1)" font-size="8" fill="#1c1c1c" font-weight="normal" text-anchor="middle" stroke="#1c1c1c" stroke-width="0.18">102</text>
<rect x="241.5" y="498.5" width="31" height="14.5" fill="#fff" stroke="#8f8f8f" stroke-width="1" />
<text transform="translate(256.8 508.03) scale(0.86 1)" font-size="8" fill="#1c1c1c" font-weight="normal" text-anchor="middle" stroke="#1c1c1c" stroke-width="0.18">166</text>
<rect x="210.6" y="513" width="30.9" height="14.5" fill="#fff" stroke="#8f8f8f" stroke-width="1" />
<text transform="translate(225.85 522.53) scale(0.86 1)" font-size="8" fill="#1c1c1c" font-weight="normal" text-anchor="middle" stroke="#1c1c1c" stroke-width="0.18">101</text>
<rect x="241.5" y="513" width="31" height="14.5" fill="#fff" stroke="#8f8f8f" stroke-width="1" />
<text transform="translate(256.8 522.53) scale(0.86 1)" font-size="8" fill="#1c1c1c" font-weight="normal" text-anchor="middle" stroke="#1c1c1c" stroke-width="0.18">167</text>
<rect x="210.6" y="527.5" width="30.9" height="14.5" fill="#fff" stroke="#8f8f8f" stroke-width="1" />
<text transform="translate(225.85 537.03) scale(0.86 1)" font-size="8" fill="#1c1c1c" font-weight="normal" text-anchor="middle" stroke="#1c1c1c" stroke-width="0.18">100</text>
<rect x="241.5" y="527.5" width="31" height="14.5" fill="#fff" stroke="#8f8f8f" stroke-width="1" />
<text transform="translate(256.8 537.03) scale(0.86 1)" font-size="8" fill="#1c1c1c" font-weight="normal" text-anchor="middle" stroke="#1c1c1c" stroke-width="0.18">168</text>
<rect x="210.6" y="544.5" width="30.9" height="14.5" fill="#fff" stroke="#8f8f8f" stroke-width="1" />
<text transform="translate(225.85 554.03) scale(0.86 1)" font-size="8" fill="#1c1c1c" font-weight="normal" text-anchor="middle" stroke="#1c1c1c" stroke-width="0.18">99</text>
<rect x="241.5" y="544.5" width="31" height="14.5" fill="#fff" stroke="#8f8f8f" stroke-width="1" />
<text transform="translate(256.8 554.03) scale(0.86 1)" font-size="8" fill="#1c1c1c" font-weight="normal" text-anchor="middle" stroke="#1c1c1c" stroke-width="0.18">169</text>
<rect x="210.6" y="559" width="30.9" height="14.5" fill="#fff" stroke="#8f8f8f" stroke-width="1" />
<text transform="translate(225.85 568.53) scale(0.86 1)" font-size="8" fill="#1c1c1c" font-weight="normal" text-anchor="middle" stroke="#1c1c1c" stroke-width="0.18">98</text>
<rect x="241.5" y="559" width="31" height="14.5" fill="#fff" stroke="#8f8f8f" stroke-width="1" />
<text transform="translate(256.8 568.53) scale(0.86 1)" font-size="8" fill="#1c1c1c" font-weight="normal" text-anchor="middle" stroke="#1c1c1c" stroke-width="0.18">170</text>
<rect x="210.6" y="573.5" width="30.9" height="14.5" fill="#fff" stroke="#8f8f8f" stroke-width="1" />
<text transform="translate(225.85 583.03) scale(0.86 1)" font-size="8" fill="#1c1c1c" font-weight="normal" text-anchor="middle" stroke="#1c1c1c" stroke-width="0.18">97</text>
<rect x="241.5" y="573.5" width="31" height="14.5" fill="#fff" stroke="#8f8f8f" stroke-width="1" />
<text transform="translate(256.8 583.03) scale(0.86 1)" font-size="8" fill="#1c1c1c" font-weight="normal" text-anchor="middle" stroke="#1c1c1c" stroke-width="0.18">171</text>
<rect x="210.6" y="590.5" width="30.9" height="14.5" fill="#fff" stroke="#8f8f8f" stroke-width="1" />
<text transform="translate(225.85 600.03) scale(0.86 1)" font-size="8" fill="#1c1c1c" font-weight="normal" text-anchor="middle" stroke="#1c1c1c" stroke-width="0.18">96</text>
<rect x="241.5" y="590.5" width="31" height="14.5" fill="#fff" stroke="#8f8f8f" stroke-width="1" />
<text transform="translate(256.8 600.03) scale(0.86 1)" font-size="8" fill="#1c1c1c" font-weight="normal" text-anchor="middle" stroke="#1c1c1c" stroke-width="0.18">172</text>
<rect x="210.6" y="605" width="30.9" height="14.5" fill="#fff" stroke="#8f8f8f" stroke-width="1" />
<text transform="translate(225.85 614.53) scale(0.86 1)" font-size="8" fill="#1c1c1c" font-weight="normal" text-anchor="middle" stroke="#1c1c1c" stroke-width="0.18">95</text>
<rect x="241.5" y="605" width="31" height="14.5" fill="#fff" stroke="#8f8f8f" stroke-width="1" />
<text transform="translate(256.8 614.53) scale(0.86 1)" font-size="8" fill="#1c1c1c" font-weight="normal" text-anchor="middle" stroke="#1c1c1c" stroke-width="0.18">173</text>
<rect x="210.6" y="619.5" width="30.9" height="14.5" fill="#fff" stroke="#8f8f8f" stroke-width="1" />
<text transform="translate(225.85 629.03) scale(0.86 1)" font-size="8" fill="#1c1c1c" font-weight="normal" text-anchor="middle" stroke="#1c1c1c" stroke-width="0.18">94</text>
<rect x="241.5" y="619.5" width="31" height="14.5" fill="#fff" stroke="#8f8f8f" stroke-width="1" />
<text transform="translate(256.8 629.03) scale(0.86 1)" font-size="8" fill="#1c1c1c" font-weight="normal" text-anchor="middle" stroke="#1c1c1c" stroke-width="0.18">174</text>
<rect x="210.6" y="636.5" width="30.9" height="14.5" fill="#fff" stroke="#8f8f8f" stroke-width="1" />
<text transform="translate(225.85 646.03) scale(0.86 1)" font-size="8" fill="#1c1c1c" font-weight="normal" text-anchor="middle" stroke="#1c1c1c" stroke-width="0.18">93</text>
<rect x="241.5" y="636.5" width="31" height="14.5" fill="#fff" stroke="#8f8f8f" stroke-width="1" />
<text transform="translate(256.8 646.03) scale(0.86 1)" font-size="8" fill="#1c1c1c" font-weight="normal" text-anchor="middle" stroke="#1c1c1c" stroke-width="0.18">175</text>
<rect x="310.5" y="33.4" width="30.7" height="14.3" fill="#fff" stroke="#8f8f8f" stroke-width="1" />
<text transform="translate(325.65 42.83) scale(0.86 1)" font-size="8" fill="#1c1c1c" font-weight="normal" text-anchor="middle" stroke="#1c1c1c" stroke-width="0.18">227</text>
<rect x="310.5" y="47.7" width="30.7" height="14.3" fill="#fff" stroke="#8f8f8f" stroke-width="1" />
<text transform="translate(325.65 57.13) scale(0.86 1)" font-size="8" fill="#1c1c1c" font-weight="normal" text-anchor="middle" stroke="#1c1c1c" stroke-width="0.18">226</text>
<rect x="310.5" y="65.5" width="30.7" height="14.5" fill="#fff" stroke="#8f8f8f" stroke-width="1" />
<text transform="translate(325.65 75.03) scale(0.86 1)" font-size="8" fill="#1c1c1c" font-weight="normal" text-anchor="middle" stroke="#1c1c1c" stroke-width="0.18">225</text>
<rect x="310.5" y="80" width="30.7" height="14.5" fill="#fff" stroke="#8f8f8f" stroke-width="1" />
<text transform="translate(325.65 89.53) scale(0.86 1)" font-size="8" fill="#1c1c1c" font-weight="normal" text-anchor="middle" stroke="#1c1c1c" stroke-width="0.18">224</text>
<rect x="310.5" y="97" width="30.7" height="14.5" fill="#fff" stroke="#8f8f8f" stroke-width="1" />
<text transform="translate(325.65 106.53) scale(0.86 1)" font-size="8" fill="#1c1c1c" font-weight="normal" text-anchor="middle" stroke="#1c1c1c" stroke-width="0.18">223</text>
<rect x="310.5" y="111.5" width="30.7" height="14.5" fill="#fff" stroke="#8f8f8f" stroke-width="1" />
<text transform="translate(325.65 121.03) scale(0.86 1)" font-size="8" fill="#1c1c1c" font-weight="normal" text-anchor="middle" stroke="#1c1c1c" stroke-width="0.18">222</text>
<rect x="310.5" y="128.5" width="30.7" height="14.33" fill="#fff" stroke="#8f8f8f" stroke-width="1" />
<text transform="translate(325.65 137.95) scale(0.86 1)" font-size="8" fill="#1c1c1c" font-weight="normal" text-anchor="middle" stroke="#1c1c1c" stroke-width="0.18">221</text>
<rect x="310.5" y="142.83" width="30.7" height="14.33" fill="#fff" stroke="#8f8f8f" stroke-width="1" />
<text transform="translate(325.65 152.28) scale(0.86 1)" font-size="8" fill="#1c1c1c" font-weight="normal" text-anchor="middle" stroke="#1c1c1c" stroke-width="0.18">220</text>
<rect x="310.5" y="157.17" width="30.7" height="14.33" fill="#fff" stroke="#8f8f8f" stroke-width="1" />
<text transform="translate(325.65 166.61) scale(0.86 1)" font-size="8" fill="#1c1c1c" font-weight="normal" text-anchor="middle" stroke="#1c1c1c" stroke-width="0.18">219</text>
<rect x="310.5" y="174.5" width="30.7" height="14.33" fill="#fff" stroke="#8f8f8f" stroke-width="1" />
<text transform="translate(325.65 183.95) scale(0.86 1)" font-size="8" fill="#1c1c1c" font-weight="normal" text-anchor="middle" stroke="#1c1c1c" stroke-width="0.18">218</text>
<rect x="310.5" y="188.83" width="30.7" height="14.33" fill="#fff" stroke="#8f8f8f" stroke-width="1" />
<text transform="translate(325.65 198.28) scale(0.86 1)" font-size="8" fill="#1c1c1c" font-weight="normal" text-anchor="middle" stroke="#1c1c1c" stroke-width="0.18">217</text>
<rect x="310.5" y="203.17" width="30.7" height="14.33" fill="#fff" stroke="#8f8f8f" stroke-width="1" />
<text transform="translate(325.65 212.61) scale(0.86 1)" font-size="8" fill="#1c1c1c" font-weight="normal" text-anchor="middle" stroke="#1c1c1c" stroke-width="0.18">216</text>
<rect x="310.5" y="220" width="30.7" height="14.5" fill="#fff" stroke="#8f8f8f" stroke-width="1" />
<text transform="translate(325.65 229.53) scale(0.86 1)" font-size="8" fill="#1c1c1c" font-weight="normal" text-anchor="middle" stroke="#1c1c1c" stroke-width="0.18">215</text>
<rect x="310.5" y="234.5" width="30.7" height="14.5" fill="#fff" stroke="#8f8f8f" stroke-width="1" />
<text transform="translate(325.65 244.03) scale(0.86 1)" font-size="8" fill="#1c1c1c" font-weight="normal" text-anchor="middle" stroke="#1c1c1c" stroke-width="0.18">214</text>
<rect x="310.5" y="249" width="30.7" height="14.5" fill="#fff" stroke="#8f8f8f" stroke-width="1" />
<text transform="translate(325.65 258.53) scale(0.86 1)" font-size="8" fill="#1c1c1c" font-weight="normal" text-anchor="middle" stroke="#1c1c1c" stroke-width="0.18">213</text>
<rect x="310.5" y="266" width="30.7" height="14.5" fill="#fff" stroke="#8f8f8f" stroke-width="1" />
<text transform="translate(325.65 275.53) scale(0.86 1)" font-size="8" fill="#1c1c1c" font-weight="normal" text-anchor="middle" stroke="#1c1c1c" stroke-width="0.18">212</text>
<rect x="310.5" y="280.5" width="30.7" height="14.5" fill="#fff" stroke="#8f8f8f" stroke-width="1" />
<text transform="translate(325.65 290.03) scale(0.86 1)" font-size="8" fill="#1c1c1c" font-weight="normal" text-anchor="middle" stroke="#1c1c1c" stroke-width="0.18">211</text>
<rect x="310.5" y="295" width="30.7" height="14.5" fill="#fff" stroke="#8f8f8f" stroke-width="1" />
<text transform="translate(325.65 304.53) scale(0.86 1)" font-size="8" fill="#1c1c1c" font-weight="normal" text-anchor="middle" stroke="#1c1c1c" stroke-width="0.18">210</text>
<rect x="310.5" y="312" width="30.7" height="14.5" fill="#fff" stroke="#8f8f8f" stroke-width="1" />
<text transform="translate(325.65 321.53) scale(0.86 1)" font-size="8" fill="#1c1c1c" font-weight="normal" text-anchor="middle" stroke="#1c1c1c" stroke-width="0.18">209</text>
<rect x="310.5" y="326.5" width="30.7" height="14.5" fill="#fff" stroke="#8f8f8f" stroke-width="1" />
<text transform="translate(325.65 336.03) scale(0.86 1)" font-size="8" fill="#1c1c1c" font-weight="normal" text-anchor="middle" stroke="#1c1c1c" stroke-width="0.18">208</text>
<rect x="310.5" y="341" width="30.7" height="14.5" fill="#fff" stroke="#8f8f8f" stroke-width="1" />
<text transform="translate(325.65 350.53) scale(0.86 1)" font-size="8" fill="#1c1c1c" font-weight="normal" text-anchor="middle" stroke="#1c1c1c" stroke-width="0.18">207</text>
<rect x="310.5" y="358" width="30.7" height="14.67" fill="#fff" stroke="#8f8f8f" stroke-width="1" />
<text transform="translate(325.65 367.61) scale(0.86 1)" font-size="8" fill="#1c1c1c" font-weight="normal" text-anchor="middle" stroke="#1c1c1c" stroke-width="0.18">206</text>
<rect x="310.5" y="372.67" width="30.7" height="14.67" fill="#fff" stroke="#8f8f8f" stroke-width="1" />
<text transform="translate(325.65 382.28) scale(0.86 1)" font-size="8" fill="#1c1c1c" font-weight="normal" text-anchor="middle" stroke="#1c1c1c" stroke-width="0.18">205</text>
<rect x="310.5" y="387.33" width="30.7" height="14.67" fill="#fff" stroke="#8f8f8f" stroke-width="1" />
<text transform="translate(325.65 396.95) scale(0.86 1)" font-size="8" fill="#1c1c1c" font-weight="normal" text-anchor="middle" stroke="#1c1c1c" stroke-width="0.18">204</text>
<rect x="310.5" y="406" width="30.7" height="14.5" fill="#fff" stroke="#8f8f8f" stroke-width="1" />
<text transform="translate(325.65 415.53) scale(0.86 1)" font-size="8" fill="#1c1c1c" font-weight="normal" text-anchor="middle" stroke="#1c1c1c" stroke-width="0.18">203</text>
<rect x="310.5" y="420.5" width="30.7" height="14.5" fill="#fff" stroke="#8f8f8f" stroke-width="1" />
<text transform="translate(325.65 430.03) scale(0.86 1)" font-size="8" fill="#1c1c1c" font-weight="normal" text-anchor="middle" stroke="#1c1c1c" stroke-width="0.18">202</text>
<rect x="310.5" y="435" width="30.7" height="14.5" fill="#fff" stroke="#8f8f8f" stroke-width="1" />
<text transform="translate(325.65 444.53) scale(0.86 1)" font-size="8" fill="#1c1c1c" font-weight="normal" text-anchor="middle" stroke="#1c1c1c" stroke-width="0.18">201</text>
<rect x="310.5" y="452.5" width="30.7" height="14.5" fill="#fff" stroke="#8f8f8f" stroke-width="1" />
<text transform="translate(325.65 462.03) scale(0.86 1)" font-size="8" fill="#1c1c1c" font-weight="normal" text-anchor="middle" stroke="#1c1c1c" stroke-width="0.18">200</text>
<rect x="310.5" y="467" width="30.7" height="14.5" fill="#fff" stroke="#8f8f8f" stroke-width="1" />
<text transform="translate(325.65 476.53) scale(0.86 1)" font-size="8" fill="#1c1c1c" font-weight="normal" text-anchor="middle" stroke="#1c1c1c" stroke-width="0.18">199</text>
<rect x="310.5" y="481.5" width="30.7" height="14.5" fill="#fff" stroke="#8f8f8f" stroke-width="1" />
<text transform="translate(325.65 491.03) scale(0.86 1)" font-size="8" fill="#1c1c1c" font-weight="normal" text-anchor="middle" stroke="#1c1c1c" stroke-width="0.18">198</text>
<rect x="310.5" y="498.5" width="30.7" height="14.5" fill="#fff" stroke="#8f8f8f" stroke-width="1" />
<text transform="translate(325.65 508.03) scale(0.86 1)" font-size="8" fill="#1c1c1c" font-weight="normal" text-anchor="middle" stroke="#1c1c1c" stroke-width="0.18">197</text>
<rect x="310.5" y="513" width="30.7" height="14.5" fill="#fff" stroke="#8f8f8f" stroke-width="1" />
<text transform="translate(325.65 522.53) scale(0.86 1)" font-size="8" fill="#1c1c1c" font-weight="normal" text-anchor="middle" stroke="#1c1c1c" stroke-width="0.18">196</text>
<rect x="310.5" y="527.5" width="30.7" height="14.5" fill="#fff" stroke="#8f8f8f" stroke-width="1" />
<text transform="translate(325.65 537.03) scale(0.86 1)" font-size="8" fill="#1c1c1c" font-weight="normal" text-anchor="middle" stroke="#1c1c1c" stroke-width="0.18">195</text>
<rect x="310.5" y="544.5" width="30.7" height="14.5" fill="#fff" stroke="#8f8f8f" stroke-width="1" />
<text transform="translate(325.65 554.03) scale(0.86 1)" font-size="8" fill="#1c1c1c" font-weight="normal" text-anchor="middle" stroke="#1c1c1c" stroke-width="0.18">194</text>
<rect x="310.5" y="559" width="30.7" height="14.5" fill="#fff" stroke="#8f8f8f" stroke-width="1" />
<text transform="translate(325.65 568.53) scale(0.86 1)" font-size="8" fill="#1c1c1c" font-weight="normal" text-anchor="middle" stroke="#1c1c1c" stroke-width="0.18">193</text>
<rect x="310.5" y="573.5" width="30.7" height="14.5" fill="#fff" stroke="#8f8f8f" stroke-width="1" />
<text transform="translate(325.65 583.03) scale(0.86 1)" font-size="8" fill="#1c1c1c" font-weight="normal" text-anchor="middle" stroke="#1c1c1c" stroke-width="0.18">192</text>
<rect x="310.5" y="590.5" width="30.7" height="14.5" fill="#fff" stroke="#8f8f8f" stroke-width="1" />
<text transform="translate(325.65 600.03) scale(0.86 1)" font-size="8" fill="#1c1c1c" font-weight="normal" text-anchor="middle" stroke="#1c1c1c" stroke-width="0.18">191</text>
<rect x="310.5" y="605" width="30.7" height="14.5" fill="#fff" stroke="#8f8f8f" stroke-width="1" />
<text transform="translate(325.65 614.53) scale(0.86 1)" font-size="8" fill="#1c1c1c" font-weight="normal" text-anchor="middle" stroke="#1c1c1c" stroke-width="0.18">190</text>
<rect x="310.5" y="619.5" width="30.7" height="14.5" fill="#fff" stroke="#8f8f8f" stroke-width="1" />
<text transform="translate(325.65 629.03) scale(0.86 1)" font-size="8" fill="#1c1c1c" font-weight="normal" text-anchor="middle" stroke="#1c1c1c" stroke-width="0.18">189</text>
<rect x="310.5" y="636.5" width="30.7" height="14.5" fill="#fff" stroke="#8f8f8f" stroke-width="1" />
<text transform="translate(325.65 646.03) scale(0.86 1)" font-size="8" fill="#1c1c1c" font-weight="normal" text-anchor="middle" stroke="#1c1c1c" stroke-width="0.18">188</text>
<rect x="310.5" y="651" width="30.7" height="14.5" fill="#fff" stroke="#8f8f8f" stroke-width="1" />
<text transform="translate(325.65 660.53) scale(0.86 1)" font-size="8" fill="#1c1c1c" font-weight="normal" text-anchor="middle" stroke="#1c1c1c" stroke-width="0.18">187</text>
<rect x="310.5" y="665.5" width="30.7" height="14.5" fill="#fff" stroke="#8f8f8f" stroke-width="1" />
<text transform="translate(325.65 675.03) scale(0.86 1)" font-size="8" fill="#1c1c1c" font-weight="normal" text-anchor="middle" stroke="#1c1c1c" stroke-width="0.18">186</text>
<rect x="310.5" y="682.5" width="30.7" height="14.5" fill="#fff" stroke="#8f8f8f" stroke-width="1" />
<text transform="translate(325.65 692.03) scale(0.86 1)" font-size="8" fill="#1c1c1c" font-weight="normal" text-anchor="middle" stroke="#1c1c1c" stroke-width="0.18">185</text>
<rect x="310.5" y="697" width="30.7" height="14.5" fill="#fff" stroke="#8f8f8f" stroke-width="1" />
<text transform="translate(325.65 706.53) scale(0.86 1)" font-size="8" fill="#1c1c1c" font-weight="normal" text-anchor="middle" stroke="#1c1c1c" stroke-width="0.18">184</text>
<rect x="310.5" y="711.5" width="30.7" height="14.5" fill="#fff" stroke="#8f8f8f" stroke-width="1" />
<text transform="translate(325.65 721.03) scale(0.86 1)" font-size="8" fill="#1c1c1c" font-weight="normal" text-anchor="middle" stroke="#1c1c1c" stroke-width="0.18">183</text>
<rect x="144.2" y="65.5" width="30.2" height="14.5" fill="#fff" stroke="#8f8f8f" stroke-width="1" />
<text transform="translate(159.1 75.03) scale(0.86 1)" font-size="8" fill="#1c1c1c" font-weight="normal" text-anchor="middle" stroke="#1c1c1c" stroke-width="0.18">126</text>
<rect x="144.2" y="80" width="30.2" height="14.5" fill="#fff" stroke="#8f8f8f" stroke-width="1" />
<text transform="translate(159.1 89.53) scale(0.86 1)" font-size="8" fill="#1c1c1c" font-weight="normal" text-anchor="middle" stroke="#1c1c1c" stroke-width="0.18">125</text>
<rect x="144.2" y="97" width="30.2" height="14.25" fill="#fff" stroke="#8f8f8f" stroke-width="1" />
<text transform="translate(159.1 106.41) scale(0.86 1)" font-size="8" fill="#1c1c1c" font-weight="normal" text-anchor="middle" stroke="#1c1c1c" stroke-width="0.18">124</text>
<rect x="144.2" y="111.25" width="30.2" height="14.25" fill="#fff" stroke="#8f8f8f" stroke-width="1" />
<text transform="translate(159.1 120.66) scale(0.86 1)" font-size="8" fill="#1c1c1c" font-weight="normal" text-anchor="middle" stroke="#1c1c1c" stroke-width="0.18">123</text>
<rect x="144.2" y="128.3" width="30.2" height="14.4" fill="#fff" stroke="#8f8f8f" stroke-width="1" />
<text transform="translate(159.1 137.78) scale(0.86 1)" font-size="8" fill="#1c1c1c" font-weight="normal" text-anchor="middle" stroke="#1c1c1c" stroke-width="0.18">122</text>
<rect x="144.2" y="142.7" width="30.2" height="14.4" fill="#fff" stroke="#8f8f8f" stroke-width="1" />
<text transform="translate(159.1 152.18) scale(0.86 1)" font-size="8" fill="#1c1c1c" font-weight="normal" text-anchor="middle" stroke="#1c1c1c" stroke-width="0.18">121</text>
<rect x="144.2" y="157.1" width="30.2" height="14.4" fill="#fff" stroke="#8f8f8f" stroke-width="1" />
<text transform="translate(159.1 166.58) scale(0.86 1)" font-size="8" fill="#1c1c1c" font-weight="normal" text-anchor="middle" stroke="#1c1c1c" stroke-width="0.18">120</text>
<rect x="144.2" y="174.3" width="30.2" height="13.7" fill="#fff" stroke="#8f8f8f" stroke-width="1" />
<text transform="translate(159.1 183.43) scale(0.86 1)" font-size="8" fill="#1c1c1c" font-weight="normal" text-anchor="middle" stroke="#1c1c1c" stroke-width="0.18">119</text>
<rect x="98.2" y="64.6" width="14.1" height="29.6" fill="#fff" stroke="#8f8f8f" stroke-width="1" />
<text transform="translate(105.05 81.68) scale(0.86 1)" font-size="8" fill="#1c1c1c" font-weight="normal" text-anchor="middle" stroke="#1c1c1c" stroke-width="0.18">129</text>
<rect x="112.3" y="64.6" width="14.1" height="29.6" fill="#fff" stroke="#8f8f8f" stroke-width="1" />
<text transform="translate(119.15 81.68) scale(0.86 1)" font-size="8" fill="#1c1c1c" font-weight="normal" text-anchor="middle" stroke="#1c1c1c" stroke-width="0.18">128</text>
<rect x="126.4" y="64.6" width="14.2" height="29.6" fill="#fff" stroke="#8f8f8f" stroke-width="1" />
<text transform="translate(133.3 81.68) scale(0.86 1)" font-size="8" fill="#1c1c1c" font-weight="normal" text-anchor="middle" stroke="#1c1c1c" stroke-width="0.18">127</text>
<rect x="82.2" y="70.4" width="13.6" height="29.2" fill="#fff" stroke="#8f8f8f" stroke-width="1" />
<text transform="translate(88.8 87.28) scale(0.86 1)" font-size="8" fill="#1c1c1c" font-weight="normal" text-anchor="middle" stroke="#1c1c1c" stroke-width="0.18">130</text>
<rect x="51.6" y="29.4" width="29.2" height="13.4" fill="#fff" stroke="#8f8f8f" stroke-width="1" />
<text transform="translate(66 38.38) scale(0.86 1)" font-size="8" fill="#1c1c1c" font-weight="normal" text-anchor="middle" stroke="#1c1c1c" stroke-width="0.18">132</text>
<rect x="51.6" y="42.8" width="29.2" height="14.1" fill="#fff" stroke="#8f8f8f" stroke-width="1" />
<text transform="translate(66 52.13) scale(0.86 1)" font-size="8" fill="#1c1c1c" font-weight="normal" text-anchor="middle" stroke="#1c1c1c" stroke-width="0.18">131</text>
<rect x="249.5" y="651.6" width="14.5" height="29.9" fill="#fff" stroke="#8f8f8f" stroke-width="1" />
<text transform="translate(256.55 668.83) scale(0.86 1)" font-size="8" fill="#1c1c1c" font-weight="normal" text-anchor="middle" stroke="#1c1c1c" stroke-width="0.18">176</text>
<rect x="75.2" y="727.3" width="13.2" height="29.3" fill="#fff" stroke="#8f8f8f" stroke-width="1" />
<text transform="translate(81.6 744.23) scale(0.86 1)" font-size="8" fill="#1c1c1c" font-weight="normal" text-anchor="middle" stroke="#1c1c1c" stroke-width="0.18">35</text>
<rect x="88.4" y="727.3" width="14.2" height="29.3" fill="#fff" stroke="#8f8f8f" stroke-width="1" />
<text transform="translate(95.3 744.23) scale(0.86 1)" font-size="8" fill="#1c1c1c" font-weight="normal" text-anchor="middle" stroke="#1c1c1c" stroke-width="0.18">36</text>
<rect x="102.6" y="727.3" width="14.1" height="29.3" fill="#fff" stroke="#8f8f8f" stroke-width="1" />
<text transform="translate(109.45 744.23) scale(0.86 1)" font-size="8" fill="#1c1c1c" font-weight="normal" text-anchor="middle" stroke="#1c1c1c" stroke-width="0.18">37</text>
<rect x="120" y="727.3" width="14.4" height="29.3" fill="#fff" stroke="#8f8f8f" stroke-width="1" />
<text transform="translate(127 744.23) scale(0.86 1)" font-size="8" fill="#1c1c1c" font-weight="normal" text-anchor="middle" stroke="#1c1c1c" stroke-width="0.18">38</text>
<rect x="138" y="727.3" width="14.5" height="29.3" fill="#fff" stroke="#8f8f8f" stroke-width="1" />
<text transform="translate(145.05 744.23) scale(0.86 1)" font-size="8" fill="#1c1c1c" font-weight="normal" text-anchor="middle" stroke="#1c1c1c" stroke-width="0.18">39</text>
<rect x="152.5" y="727.3" width="14.5" height="29.3" fill="#fff" stroke="#8f8f8f" stroke-width="1" />
<text transform="translate(159.55 744.23) scale(0.86 1)" font-size="8" fill="#1c1c1c" font-weight="normal" text-anchor="middle" stroke="#1c1c1c" stroke-width="0.18">40</text>
<rect x="173" y="727.3" width="14.4" height="29.3" fill="#fff" stroke="#8f8f8f" stroke-width="1" />
<text transform="translate(180 744.23) scale(0.86 1)" font-size="8" fill="#1c1c1c" font-weight="normal" text-anchor="middle" stroke="#1c1c1c" stroke-width="0.18">41</text>
<rect x="187.4" y="727.3" width="14.6" height="29.3" fill="#fff" stroke="#8f8f8f" stroke-width="1" />
<text transform="translate(194.5 744.23) scale(0.86 1)" font-size="8" fill="#1c1c1c" font-weight="normal" text-anchor="middle" stroke="#1c1c1c" stroke-width="0.18">42</text>
<rect x="214" y="727.3" width="14.3" height="29.3" fill="#fff" stroke="#8f8f8f" stroke-width="1" />
<text transform="translate(220.95 744.23) scale(0.86 1)" font-size="8" fill="#1c1c1c" font-weight="normal" text-anchor="middle" stroke="#1c1c1c" stroke-width="0.18">177</text>
<rect x="228.3" y="727.3" width="14.5" height="29.3" fill="#fff" stroke="#8f8f8f" stroke-width="1" />
<text transform="translate(235.35 744.23) scale(0.86 1)" font-size="8" fill="#1c1c1c" font-weight="normal" text-anchor="middle" stroke="#1c1c1c" stroke-width="0.18">178</text>
<rect x="248.3" y="727.3" width="14.5" height="29.3" fill="#fff" stroke="#8f8f8f" stroke-width="1" />
<text transform="translate(255.35 744.23) scale(0.86 1)" font-size="8" fill="#1c1c1c" font-weight="normal" text-anchor="middle" stroke="#1c1c1c" stroke-width="0.18">179</text>
<rect x="266.6" y="727.3" width="14" height="29.3" fill="#fff" stroke="#8f8f8f" stroke-width="1" />
<text transform="translate(273.4 744.23) scale(0.86 1)" font-size="8" fill="#1c1c1c" font-weight="normal" text-anchor="middle" stroke="#1c1c1c" stroke-width="0.18">180</text>
<rect x="280.6" y="727.3" width="14.2" height="29.3" fill="#fff" stroke="#8f8f8f" stroke-width="1" />
<text transform="translate(287.5 744.23) scale(0.86 1)" font-size="8" fill="#1c1c1c" font-weight="normal" text-anchor="middle" stroke="#1c1c1c" stroke-width="0.18">181</text>
<rect x="294.8" y="727.3" width="14.4" height="29.3" fill="#fff" stroke="#8f8f8f" stroke-width="1" />
<text transform="translate(301.8 744.23) scale(0.86 1)" font-size="8" fill="#1c1c1c" font-weight="normal" text-anchor="middle" stroke="#1c1c1c" stroke-width="0.18">182</text>
<g transform="translate(70.2 200.3) rotate(49)">
<rect x="-15.85" y="-6.8" width="31.7" height="13.6" fill="#fff" stroke="#555" stroke-width="0.9" />
</g>
<text transform="translate(66.6 197.9) rotate(0) scale(0.9 1)" x="0" y="2.9" font-size="8" fill="#1c1c1c" text-anchor="middle">1</text>
<g transform="translate(106.1 21.4) rotate(21.5)">
<rect x="-15.4" y="-6.75" width="30.8" height="13.5" fill="#fff" stroke="#555" stroke-width="0.9" />
</g>
<text transform="translate(106.1 21.4) rotate(21.5) scale(0.9 1)" x="0" y="2.9" font-size="8" fill="#1c1c1c" text-anchor="middle">133</text>
<rect x="66.5" y="217.2" width="7" height="2.2" fill="#9c1428"/>
<rect x="66.5" y="263.4" width="7" height="2.2" fill="#9c1428"/>
<rect x="66.5" y="309.3" width="7" height="2.2" fill="#9c1428"/>
<rect x="66.5" y="355.4" width="7" height="2.2" fill="#9c1428"/>
<rect x="66.2" y="401.4" width="7.4" height="4.6" fill="#9c1428"/>
<rect x="66.5" y="449.7" width="7" height="2.2" fill="#9c1428"/>
<rect x="66.5" y="495.7" width="7" height="2.2" fill="#9c1428"/>
<rect x="66.5" y="541.6" width="7" height="2.2" fill="#9c1428"/>
<rect x="66.5" y="587.8" width="7" height="2.2" fill="#9c1428"/>
<rect x="66.5" y="633.7" width="7" height="2.2" fill="#9c1428"/>
<rect x="66.5" y="679.9" width="7" height="2.2" fill="#9c1428"/>
<rect x="113.2" y="263.4" width="5.2" height="2.2" fill="#9c1428"/>
<rect x="139.6" y="263.4" width="5" height="2.2" fill="#9c1428"/>
<rect x="166.4" y="263.4" width="5" height="2.2" fill="#9c1428"/>
<rect x="113.2" y="309.3" width="5.2" height="2.2" fill="#9c1428"/>
<rect x="139.6" y="309.3" width="5" height="2.2" fill="#9c1428"/>
<rect x="166.4" y="309.3" width="5" height="2.2" fill="#9c1428"/>
<rect x="113.2" y="355.4" width="5.2" height="2.2" fill="#9c1428"/>
<rect x="139.6" y="355.4" width="5" height="2.2" fill="#9c1428"/>
<rect x="166.4" y="355.4" width="5" height="2.2" fill="#9c1428"/>
<rect x="112.3" y="403.4" width="6.5" height="2.4" fill="#9c1428"/>
<rect x="139" y="403.4" width="6.5" height="2.4" fill="#9c1428"/>
<rect x="165.4" y="401.4" width="6.8" height="4.6" fill="#9c1428"/>
<rect x="113.2" y="449.7" width="5.2" height="2.2" fill="#9c1428"/>
<rect x="139.6" y="449.7" width="5" height="2.2" fill="#9c1428"/>
<rect x="166.4" y="449.7" width="5" height="2.2" fill="#9c1428"/>
<rect x="113.2" y="495.7" width="5.2" height="2.2" fill="#9c1428"/>
<rect x="139.6" y="495.7" width="5" height="2.2" fill="#9c1428"/>
<rect x="166.4" y="495.7" width="5" height="2.2" fill="#9c1428"/>
<rect x="113.2" y="541.6" width="5.2" height="2.2" fill="#9c1428"/>
<rect x="139.6" y="541.6" width="5" height="2.2" fill="#9c1428"/>
<rect x="166.4" y="541.6" width="5" height="2.2" fill="#9c1428"/>
<rect x="113.2" y="587.8" width="5.2" height="2.2" fill="#9c1428"/>
<rect x="139.6" y="587.8" width="5" height="2.2" fill="#9c1428"/>
<rect x="166.4" y="587.8" width="5" height="2.2" fill="#9c1428"/>
<rect x="113.2" y="633.7" width="5.2" height="2.2" fill="#9c1428"/>
<rect x="139.6" y="633.7" width="5" height="2.2" fill="#9c1428"/>
<rect x="166.4" y="633.7" width="5" height="2.2" fill="#9c1428"/>
<rect x="112.8" y="679.9" width="7.2" height="2.2" fill="#9c1428"/>
<rect x="136.4" y="679.9" width="8" height="2.2" fill="#9c1428"/>
<rect x="166.2" y="679.9" width="5.6" height="2.2" fill="#9c1428"/>
<rect x="212.4" y="62.9" width="5.2" height="2.2" fill="#9c1428"/>
<rect x="239.3" y="62.9" width="5" height="2.2" fill="#9c1428"/>
<rect x="265.6" y="62.9" width="5" height="2.2" fill="#9c1428"/>
<rect x="212.4" y="94.2" width="5.2" height="2.2" fill="#9c1428"/>
<rect x="239.3" y="94.2" width="5" height="2.2" fill="#9c1428"/>
<rect x="265.6" y="94.2" width="5" height="2.2" fill="#9c1428"/>
<rect x="266.3" y="125.6" width="4.7" height="2" fill="#9c1428"/>
<rect x="212.4" y="171.5" width="5.2" height="2.2" fill="#9c1428"/>
<rect x="239.3" y="171.5" width="5" height="2.2" fill="#9c1428"/>
<rect x="265.6" y="171.5" width="5" height="2.2" fill="#9c1428"/>
<rect x="212.4" y="217.2" width="5.2" height="2.2" fill="#9c1428"/>
<rect x="239.3" y="217.2" width="5" height="2.2" fill="#9c1428"/>
<rect x="265.6" y="217.2" width="5" height="2.2" fill="#9c1428"/>
<rect x="212.4" y="263.4" width="5.2" height="2.2" fill="#9c1428"/>
<rect x="239.3" y="263.4" width="5" height="2.2" fill="#9c1428"/>
<rect x="265.6" y="263.4" width="5" height="2.2" fill="#9c1428"/>
<rect x="212.4" y="309.3" width="5.2" height="2.2" fill="#9c1428"/>
<rect x="239.3" y="309.3" width="5" height="2.2" fill="#9c1428"/>
<rect x="265.6" y="309.3" width="5" height="2.2" fill="#9c1428"/>
<rect x="212.4" y="355.4" width="5.2" height="2.2" fill="#9c1428"/>
<rect x="239.3" y="355.4" width="5" height="2.2" fill="#9c1428"/>
<rect x="265.6" y="355.4" width="5" height="2.2" fill="#9c1428"/>
<rect x="212" y="403.4" width="6" height="2.4" fill="#9c1428"/>
<rect x="238" y="403.4" width="6.7" height="2.4" fill="#9c1428"/>
<rect x="265.2" y="401.4" width="6.8" height="4.6" fill="#9c1428"/>
<rect x="212.4" y="449.7" width="5.2" height="2.2" fill="#9c1428"/>
<rect x="239.3" y="449.7" width="5" height="2.2" fill="#9c1428"/>
<rect x="265.6" y="449.7" width="5" height="2.2" fill="#9c1428"/>
<rect x="212.4" y="495.7" width="5.2" height="2.2" fill="#9c1428"/>
<rect x="239.3" y="495.7" width="5" height="2.2" fill="#9c1428"/>
<rect x="265.6" y="495.7" width="5" height="2.2" fill="#9c1428"/>
<rect x="212.4" y="541.6" width="5.2" height="2.2" fill="#9c1428"/>
<rect x="239.3" y="541.6" width="5" height="2.2" fill="#9c1428"/>
<rect x="265.6" y="541.6" width="5" height="2.2" fill="#9c1428"/>
<rect x="212.4" y="587.8" width="5.2" height="2.2" fill="#9c1428"/>
<rect x="239.3" y="587.8" width="5" height="2.2" fill="#9c1428"/>
<rect x="265.6" y="587.8" width="5" height="2.2" fill="#9c1428"/>
<rect x="212.4" y="633.7" width="5.2" height="2.2" fill="#9c1428"/>
<rect x="239.3" y="633.7" width="5" height="2.2" fill="#9c1428"/>
<rect x="265.6" y="633.7" width="5" height="2.2" fill="#9c1428"/>
<rect x="264.2" y="679.8" width="6.8" height="2" fill="#9c1428"/>
<rect x="311" y="62.9" width="7" height="2.2" fill="#9c1428"/>
<rect x="311" y="94.2" width="7" height="2.2" fill="#9c1428"/>
<rect x="311" y="125.6" width="7" height="2.2" fill="#9c1428"/>
<rect x="311" y="171.5" width="7" height="2.2" fill="#9c1428"/>
<rect x="311" y="217.2" width="7" height="2.2" fill="#9c1428"/>
<rect x="311" y="263.4" width="7" height="2.2" fill="#9c1428"/>
<rect x="311" y="309.3" width="7" height="2.2" fill="#9c1428"/>
<rect x="311" y="355.4" width="7" height="2.2" fill="#9c1428"/>
<rect x="311" y="401.4" width="7" height="4.6" fill="#9c1428"/>
<rect x="311" y="449.7" width="7" height="2.2" fill="#9c1428"/>
<rect x="311" y="495.7" width="7" height="2.2" fill="#9c1428"/>
<rect x="311" y="541.6" width="7" height="2.2" fill="#9c1428"/>
<rect x="311" y="587.8" width="7" height="2.2" fill="#9c1428"/>
<rect x="311" y="633.7" width="7" height="2.2" fill="#9c1428"/>
<rect x="311" y="679.9" width="7" height="2.2" fill="#9c1428"/>
<rect x="165.6" y="62.9" width="6.4" height="2.2" fill="#9c1428"/>
<rect x="165.6" y="124.9" width="6.4" height="2.2" fill="#9c1428"/>
<rect x="165.6" y="171.5" width="6.4" height="2.2" fill="#9c1428"/>
<rect x="143.2" y="187.8" width="3.8" height="1.8" fill="#9c1428"/>
<rect x="166" y="217.4" width="5.6" height="2.2" fill="#9c1428"/>
<rect x="117.5" y="726" width="1.8" height="4.5" fill="#9c1428"/>
<rect x="135.7" y="726" width="1.8" height="4.5" fill="#9c1428"/>
<rect x="167.3" y="726" width="1.8" height="4.5" fill="#9c1428"/>
<rect x="243.1" y="726" width="1.8" height="4.5" fill="#9c1428"/>
<rect x="264.4" y="726" width="1.8" height="4.5" fill="#9c1428"/>
<path d="M211.4 112 L244.8 112 L241.3 117.5 L244.8 122 L244.8 142.2 L211.4 142.2 L211.4 122 L215.4 117.5 L211.4 112 Z" fill="#fff" stroke="#a51d24" stroke-width="1.3" stroke-linejoin="miter" />
<path d="M211.4 125.6 L235.2 125.6 L236.4 129.2 L244.6 124.4" fill="none" stroke="#a51d24" stroke-width="1.1" stroke-linejoin="miter" />
<line x1="218.5" y1="129.5" x2="235.8" y2="129.5" stroke="#9a9a9a" stroke-width="0.8" />
<line x1="218.5" y1="131.44" x2="235.8" y2="131.44" stroke="#9a9a9a" stroke-width="0.8" />
<line x1="218.5" y1="133.38" x2="235.8" y2="133.38" stroke="#9a9a9a" stroke-width="0.8" />
<line x1="218.5" y1="135.32" x2="235.8" y2="135.32" stroke="#9a9a9a" stroke-width="0.8" />
<line x1="218.5" y1="137.26" x2="235.8" y2="137.26" stroke="#9a9a9a" stroke-width="0.8" />
<line x1="218.5" y1="139.2" x2="235.8" y2="139.2" stroke="#9a9a9a" stroke-width="0.8" />
<line x1="224" y1="129.5" x2="224" y2="133.4" stroke="#9a9a9a" stroke-width="0.8" />
<path d="M111.4 372.6 L144.8 372.6 L144.8 402.4 L111.4 402.4 L115.2 394.4 L111.4 392.4 Z" fill="#fff" stroke="#a51d24" stroke-width="1.3" stroke-linejoin="miter" />
<path d="M111.4 388.8 L135 388.8 L137 384.6 L144.6 389.6" fill="none" stroke="#a51d24" stroke-width="1.1" stroke-linejoin="miter" />
<rect x="144.8" y="395.6" width="4.5" height="6.8" fill="#fff" stroke="#a51d24" stroke-width="1.1" />
<line x1="119.6" y1="376.6" x2="136" y2="376.6" stroke="#9a9a9a" stroke-width="0.8" />
<line x1="119.6" y1="378.43" x2="136" y2="378.43" stroke="#9a9a9a" stroke-width="0.8" />
<line x1="119.6" y1="380.27" x2="136" y2="380.27" stroke="#9a9a9a" stroke-width="0.8" />
<line x1="119.6" y1="382.1" x2="136" y2="382.1" stroke="#9a9a9a" stroke-width="0.8" />
<line x1="119.6" y1="383.93" x2="136" y2="383.93" stroke="#9a9a9a" stroke-width="0.8" />
<line x1="119.6" y1="385.77" x2="136" y2="385.77" stroke="#9a9a9a" stroke-width="0.8" />
<line x1="119.6" y1="387.6" x2="136" y2="387.6" stroke="#9a9a9a" stroke-width="0.8" />
<path d="M211.3 372.8 L243.9 372.8 L243.9 391.6 L240.4 396 L243.9 402.2 L211.3 402.2 L215.2 396 L211.3 391.6 Z" fill="#fff" stroke="#a51d24" stroke-width="1.3" stroke-linejoin="miter" />
<path d="M211.3 388.8 L217 385 L219.6 388.8 L243.9 388.8" fill="none" stroke="#a51d24" stroke-width="1.1" stroke-linejoin="miter" />
<rect x="243.9" y="385.2" width="5" height="6.6" fill="#fff" stroke="#a51d24" stroke-width="1.1" />
<line x1="220" y1="376.6" x2="236.6" y2="376.6" stroke="#9a9a9a" stroke-width="0.8" />
<line x1="220" y1="378.4" x2="236.6" y2="378.4" stroke="#9a9a9a" stroke-width="0.8" />
<line x1="220" y1="380.2" x2="236.6" y2="380.2" stroke="#9a9a9a" stroke-width="0.8" />
<line x1="220" y1="382" x2="236.6" y2="382" stroke="#9a9a9a" stroke-width="0.8" />
<line x1="220" y1="383.8" x2="236.6" y2="383.8" stroke="#9a9a9a" stroke-width="0.8" />
<line x1="220" y1="385.6" x2="236.6" y2="385.6" stroke="#9a9a9a" stroke-width="0.8" />
<line x1="220" y1="387.4" x2="236.6" y2="387.4" stroke="#9a9a9a" stroke-width="0.8" />
<path d="M210.9 651.6 L243.6 651.6 L243.6 686.6 L210.9 686.6 L214.6 679.6 L210.9 677.4 Z" fill="#fff" stroke="#a51d24" stroke-width="1.3" stroke-linejoin="miter" />
<path d="M210.9 667.8 L234.6 667.8 L236.6 664.4 L243.4 668.8" fill="none" stroke="#a51d24" stroke-width="1.1" stroke-linejoin="miter" />
<path d="M235 682 L238.4 685 L243.4 680.6" fill="none" stroke="#a51d24" stroke-width="1.0" stroke-linejoin="miter" />
<line x1="218.6" y1="655" x2="234.6" y2="655" stroke="#9a9a9a" stroke-width="0.8" />
<line x1="218.6" y1="656.9" x2="234.6" y2="656.9" stroke="#9a9a9a" stroke-width="0.8" />
<line x1="218.6" y1="658.8" x2="234.6" y2="658.8" stroke="#9a9a9a" stroke-width="0.8" />
<line x1="218.6" y1="660.7" x2="234.6" y2="660.7" stroke="#9a9a9a" stroke-width="0.8" />
<line x1="218.6" y1="662.6" x2="234.6" y2="662.6" stroke="#9a9a9a" stroke-width="0.8" />
<line x1="218.6" y1="664.5" x2="234.6" y2="664.5" stroke="#9a9a9a" stroke-width="0.8" />
<line x1="218.6" y1="666.4" x2="234.6" y2="666.4" stroke="#9a9a9a" stroke-width="0.8" />
<rect x="244.2" y="655.8" width="4.8" height="7" fill="#e0141a"/>
<polygon points="268.2,117.8 258.2,117.8 258.2,115.9 251.4,119.6 258.2,123.3 258.2,121.4 268.2,121.4" fill="#e01217"/>
<text transform="translate(274 112.7) scale(0.93 1)" font-size="5.7" fill="#222" font-weight="bold" text-anchor="start" stroke="#2a2a2a" stroke-width="0.2">Выход из а/с</text>
<text transform="translate(274 118.9) scale(0.93 1)" font-size="5.7" fill="#222" font-weight="bold" text-anchor="start" stroke="#2a2a2a" stroke-width="0.2">во двор</text>
<polygon points="93.2,393.8 103.8,393.8 103.8,391.9 110.6,395.6 103.8,399.3 103.8,397.4 93.2,397.4" fill="#e01217"/>
<text transform="translate(76.6 411.4) scale(0.93 1)" font-size="5.7" fill="#222" font-weight="bold" text-anchor="start" stroke="#2a2a2a" stroke-width="0.2">Выход из а/с</text>
<text transform="translate(76.6 417) scale(0.93 1)" font-size="5.7" fill="#222" font-weight="bold" text-anchor="start" stroke="#2a2a2a" stroke-width="0.2">во двор</text>
<polygon points="268.3,394.1 258.2,394.1 258.2,392.2 251.4,395.9 258.2,399.6 258.2,397.7 268.3,397.7" fill="#e01217"/>
<text transform="translate(260.2 380.9) scale(0.93 1)" font-size="5.7" fill="#222" font-weight="bold" text-anchor="start" stroke="#2a2a2a" stroke-width="0.2">Выход из а/с</text>
<text transform="translate(260.2 387.1) scale(0.93 1)" font-size="5.7" fill="#222" font-weight="bold" text-anchor="start" stroke="#2a2a2a" stroke-width="0.2">во двор</text>
<polygon points="187,678 198.4,678 198.4,676.1 205.2,679.8 198.4,683.5 198.4,681.6 187,681.6" fill="#e01217"/>
<text transform="translate(170.2 692.3) scale(0.93 1)" font-size="5.7" fill="#222" font-weight="bold" text-anchor="start" stroke="#2a2a2a" stroke-width="0.2">Выход из а/с</text>
<text transform="translate(170.2 698.3) scale(0.93 1)" font-size="5.7" fill="#222" font-weight="bold" text-anchor="start" stroke="#2a2a2a" stroke-width="0.2">во двор</text>
<polygon points="66,73.4 66,79.6 64.1,79.6 67.8,86.4 71.5,79.6 69.6,79.6 69.6,73.4" fill="#e01217"/>
<text transform="translate(85.8 53.2) scale(0.93 1)" font-size="5.7" fill="#222" font-weight="bold" text-anchor="start" stroke="#2a2a2a" stroke-width="0.2">Выход из а/с</text>
<text transform="translate(85.8 59) scale(0.93 1)" font-size="5.7" fill="#222" font-weight="bold" text-anchor="start" stroke="#2a2a2a" stroke-width="0.2">во двор</text>
<polygon points="107.6,134.2 107.6,153 105.2,153 110.4,169 115.6,153 113.2,153 113.2,134.2" fill="#de0f14"/>
<polygon points="124,169.8 124,151 121.6,151 126.8,135 132,151 129.6,151 129.6,169.8" fill="#de0f14"/>
<text transform="translate(101.8 195.8) scale(0.875 1)" font-size="5.7" fill="#222" font-weight="bold" text-anchor="start" stroke="#2a2a2a" stroke-width="0.2">Выезд из а/с</text>
<text transform="translate(101.8 201.6) scale(0.875 1)" font-size="5.7" fill="#222" font-weight="bold" text-anchor="start" stroke="#2a2a2a" stroke-width="0.2">на 1-ый уровень</text>
<line x1="97.4" y1="105.6" x2="143" y2="105.6" stroke="#8d2a2a" stroke-width="1" />
<path d="M106.4 105.6 L108.6 103.4 L111.6 105.6" fill="#fff" stroke="#8d2a2a" stroke-width="0.9" stroke-linejoin="miter" />
<line x1="97.4" y1="132.6" x2="139.8" y2="107.4" stroke="#666" stroke-width="0.8" />
<line x1="120" y1="120" x2="120" y2="182" stroke="#aaa" stroke-width="1.6" />
<line x1="97.4" y1="171" x2="143" y2="171" stroke="#aaa" stroke-width="0.9" />
<line x1="97.4" y1="182.4" x2="143" y2="182.4" stroke="#aaa" stroke-width="0.9" />
<line x1="108" y1="171" x2="108" y2="182.4" stroke="#aaa" stroke-width="0.9" />
<line x1="131" y1="171" x2="131" y2="182.4" stroke="#aaa" stroke-width="0.9" />
<line x1="109.4" y1="133" x2="109.4" y2="170" stroke="#777" stroke-width="0.6" />
<line x1="130.6" y1="133" x2="130.6" y2="170" stroke="#777" stroke-width="0.6" />
<path d="M128.8 136.2 L130.6 132.6 L132.4 136.2" fill="none" stroke="#777" stroke-width="0.6" stroke-linejoin="miter" />
<path d="M107.6 136.2 L109.4 132.6 L111.2 136.2" fill="none" stroke="#777" stroke-width="0.6" stroke-linejoin="miter" />
<rect x="99.6" y="216.8" width="18.4" height="3.6" fill="none" stroke="#94585a" stroke-width="0.7" stroke-dasharray="1.2 1.2"/>
<rect x="121.8" y="216.8" width="17.9" height="3.6" fill="none" stroke="#94585a" stroke-width="0.7" stroke-dasharray="1.2 1.2"/>
<rect x="118" y="218.4" width="3.8" height="1.8" fill="#8a1a24"/>
<rect x="144.2" y="189.6" width="3.4" height="26.2" fill="none" stroke="#94585a" stroke-width="0.7" stroke-dasharray="1.2 1.2"/>
<rect x="174.2" y="216.6" width="35.4" height="3.8" fill="none" stroke="#94585a" stroke-width="0.7" stroke-dasharray="1.2 1.2"/>
<rect x="210" y="687" width="2.8" height="36" fill="none" stroke="#94585a" stroke-width="0.7" stroke-dasharray="1.2 1.2"/>
<rect x="139.9" y="215.6" width="6" height="4.2" fill="#a81820"/>
<path d="M37 4.6 L88.6 4.6 L141.8 25.7 L343.2 25.7 L343.2 726.9 L310.6 726.9 L310.6 758.2 L73.5 758.2 L73.5 726.9 L42 726.9 L42 34 L37 34 Z" fill="none" stroke="#ae1f23" stroke-width="2.5" stroke-linejoin="miter" />
<path d="M88.2 4.6 L88.2 19.8" fill="none" stroke="#ae1f23" stroke-width="2.3" stroke-linejoin="miter" />
<path d="M89.2 27.6 L50.6 27.6 L50.6 86.8 L64.2 86.8" fill="none" stroke="#ae1f23" stroke-width="2.5" stroke-linejoin="miter" />
<path d="M97.2 64 L97.2 219.6" fill="none" stroke="#ae1f23" stroke-width="2.0" stroke-linejoin="miter" />
<path d="M143.4 64 L143.4 188.8" fill="none" stroke="#ae1f23" stroke-width="2.4" stroke-linejoin="miter" />
<path d="M139.9 219.2 L174 219.2" fill="none" stroke="#ae1f23" stroke-width="2.0" stroke-linejoin="miter" />
<path d="M42 101.3 L97.2 101.3" fill="none" stroke="#ae1f23" stroke-width="1.5" stroke-linejoin="miter" />
<path d="M75 87.6 L75 101.3" fill="none" stroke="#ae1f23" stroke-width="1.5" stroke-linejoin="miter" />
<path d="M42 182.8 L85.3 182.8" fill="none" stroke="#ae1f23" stroke-width="1.5" stroke-linejoin="miter" />
<path d="M63.6 101.3 L63.6 113 L84.9 113 L84.9 150" fill="none" stroke="#a52a2a" stroke-width="1.2" stroke-linejoin="miter" />
<path d="M84.9 163 L84.9 182.8" fill="none" stroke="#a52a2a" stroke-width="1.2" stroke-linejoin="miter" />
<path d="M84.9 150 L88.4 153.6 L86 157.6 L84.9 163" fill="none" stroke="#a52a2a" stroke-width="0.8" stroke-linejoin="miter" />
<path d="M85 162.4 L96.6 165" fill="none" stroke="#a52a2a" stroke-width="0.8" stroke-linejoin="miter" />
<path d="M211.4 723 L211.4 758" fill="none" stroke="#ae1f23" stroke-width="2.2" stroke-linejoin="miter" />
<rect x="203.4" y="752.8" width="8" height="4.6" fill="#e0141a"/>
<line x1="44.6" y1="58" x2="48" y2="58" stroke="#b9a5a5" stroke-width="0.6" />
<line x1="44.6" y1="59.9" x2="48" y2="59.9" stroke="#b9a5a5" stroke-width="0.6" />
<line x1="44.6" y1="61.8" x2="48" y2="61.8" stroke="#b9a5a5" stroke-width="0.6" />
<line x1="44.6" y1="63.7" x2="48" y2="63.7" stroke="#b9a5a5" stroke-width="0.6" />
<line x1="44.6" y1="65.6" x2="48" y2="65.6" stroke="#b9a5a5" stroke-width="0.6" />
<line x1="44.6" y1="67.5" x2="48" y2="67.5" stroke="#b9a5a5" stroke-width="0.6" />
<line x1="44.6" y1="69.4" x2="48" y2="69.4" stroke="#b9a5a5" stroke-width="0.6" />
<line x1="44.6" y1="71.3" x2="48" y2="71.3" stroke="#b9a5a5" stroke-width="0.6" />
<line x1="44.6" y1="73.2" x2="48" y2="73.2" stroke="#b9a5a5" stroke-width="0.6" />
<line x1="44.6" y1="75.1" x2="48" y2="75.1" stroke="#b9a5a5" stroke-width="0.6" />
<line x1="44.6" y1="77" x2="48" y2="77" stroke="#b9a5a5" stroke-width="0.6" />
<line x1="44.6" y1="78.9" x2="48" y2="78.9" stroke="#b9a5a5" stroke-width="0.6" />
<line x1="44.6" y1="80.8" x2="48" y2="80.8" stroke="#b9a5a5" stroke-width="0.6" />
<line x1="44.6" y1="82.7" x2="48" y2="82.7" stroke="#b9a5a5" stroke-width="0.6" />
<line x1="44.6" y1="84.6" x2="48" y2="84.6" stroke="#b9a5a5" stroke-width="0.6" />
<line x1="44.6" y1="86.5" x2="48" y2="86.5" stroke="#b9a5a5" stroke-width="0.6" />
<line x1="44.6" y1="58" x2="44.6" y2="88" stroke="#b9a5a5" stroke-width="0.6" />
<line x1="48" y1="58" x2="48" y2="88" stroke="#b9a5a5" stroke-width="0.6" />
<path d="M43.4 47 L49 56" fill="none" stroke="#b9a5a5" stroke-width="0.6" stroke-linejoin="miter" />
<path d="M43.4 40 L49 50" fill="none" stroke="#b9a5a5" stroke-width="0.6" stroke-linejoin="miter" />
<rect x="45.4" y="5.4" width="1.6" height="6" fill="#b01c22"/>
<rect x="45.4" y="19.6" width="1.6" height="5.4" fill="#b01c22"/>
<rect x="73.8" y="61.8" width="1.6" height="4.2" fill="#c01c22"/>
<rect x="72.8" y="124.4" width="3" height="4.2" fill="#c8161c"/>
<rect x="72.8" y="170.8" width="3" height="4" fill="#c8161c"/>
<path d="M75.8 23.4 L79.6 27" fill="none" stroke="#ae1f23" stroke-width="1.6" stroke-linejoin="miter" />
<path d="M49.4 92.2 L53.2 89.6 L55 93 L52 94.4 L54.8 101" fill="none" stroke="#a52a2a" stroke-width="0.8" stroke-linejoin="miter" />
<path d="M64.4 87.4 L66.2 91.2 L72.6 87.8 L74.6 89.4" fill="none" stroke="#a52a2a" stroke-width="0.8" stroke-linejoin="miter" />
<path d="M65.2 100.4 L66.6 96.6 L72.8 100.6" fill="none" stroke="#a52a2a" stroke-width="0.8" stroke-linejoin="miter" />
<path d="M84.2 21 L87.6 26.6" fill="none" stroke="#a52a2a" stroke-width="0.8" stroke-linejoin="miter" />
</g>
<g id="right">
<text x="680.8" y="34.2" font-size="16.2" fill="#111" font-weight="bold" text-anchor="middle" >ЖК «Чистое небо»,</text>
<text x="681" y="51.2" font-size="14.6" fill="#1a1a1a" font-weight="normal" text-anchor="middle" >Корпус 10.1, Автостоянка 1, -2 этаж</text>
<polygon points="646.5,160.2 638.8,198.3 646.5,206" fill="#fff" stroke="#222" stroke-width="0.9" stroke-linejoin="miter"/>
<polygon points="646.5,160.2 654.2,198.3 646.5,206" fill="#a9a9a9" stroke="#222" stroke-width="0.9" stroke-linejoin="miter"/>
<polygon points="693.8,206 654.2,198.3 646.5,206" fill="#fff" stroke="#222" stroke-width="0.9" stroke-linejoin="miter"/>
<polygon points="693.8,206 654.2,213.7 646.5,206" fill="#a9a9a9" stroke="#222" stroke-width="0.9" stroke-linejoin="miter"/>
<polygon points="646.5,251.4 654.2,213.7 646.5,206" fill="#fff" stroke="#222" stroke-width="0.9" stroke-linejoin="miter"/>
<polygon points="646.5,251.4 638.8,213.7 646.5,206" fill="#a9a9a9" stroke="#222" stroke-width="0.9" stroke-linejoin="miter"/>
<polygon points="599.4,206 638.8,213.7 646.5,206" fill="#fff" stroke="#222" stroke-width="0.9" stroke-linejoin="miter"/>
<polygon points="599.4,206 638.8,198.3 646.5,206" fill="#a9a9a9" stroke="#222" stroke-width="0.9" stroke-linejoin="miter"/>
<text x="647.2" y="154.3" font-size="12" fill="#111" font-weight="bold" text-anchor="middle" >С</text>
<text x="587.4" y="210.4" font-size="12" fill="#111" font-weight="bold" text-anchor="middle" >З</text>
<text x="703.2" y="210" font-size="12" fill="#111" font-weight="bold" text-anchor="middle" >В</text>
<text x="649" y="267.8" font-size="12" fill="#111" font-weight="bold" text-anchor="middle" >Ю</text>
<polygon points="430.4,271 409.6,271 409.6,272.2 407.6,272.2 407.6,277.95 406.2,277.95 406.2,283.91 407.6,283.91 407.6,297.82 406.2,297.82 406.2,303.78 407.6,303.78 407.6,317.69 406.2,317.69 406.2,323.65 407.6,323.65 407.6,329.4 409.6,329.4 409.6,330.6 430.4,330.6" fill="#fff" stroke="#1a1a1a" stroke-width="1.1" stroke-linejoin="miter"/>
<polygon points="428.4,340.2 408.6,340.2 408.6,341.4 406.6,341.4 406.6,346.78 405.2,346.78 405.2,352.42 406.6,352.42 406.6,365.58 405.2,365.58 405.2,371.22 406.6,371.22 406.6,384.38 405.2,384.38 405.2,390.02 406.6,390.02 406.6,395.4 408.6,395.4 408.6,396.6 428.4,396.6" fill="#fff" stroke="#1a1a1a" stroke-width="1.1" stroke-linejoin="miter"/>
<polygon points="404.6,396.6 427,396.6 426.4,420 427.6,420 427.6,428 426,428 425.4,449.4 409,449.4 409,447.4 403.4,447.4 403.4,441 401,441 401,421.4 403.4,421.4 403.4,419.4 404.6,419.4" fill="#fff" stroke="#1a1a1a" stroke-width="1.1" stroke-linejoin="miter"/>
<polygon points="431,272 508.5,272 507.4,330 506,400 504.4,428 502,451.7 425,447.6 427.4,385 429,330" fill="#fe0000"/>
<polygon points="449.3,268 457.57,268 457.57,265.8 466.91,265 474.39,265 483.73,265.8 483.73,268 492,268 492,273.12 494,273.12 494,281.7 490,281.7 490,285.42 485,285.42 485,288.2 456.3,288.2 456.3,285.42 451.3,285.42 451.3,281.7 447.3,281.7 447.3,273.12 449.3,273.12" fill="#fff" stroke="#1a1a1a" stroke-width="1.1" stroke-linejoin="miter"/>
<polygon points="508.4,272.6 527.8,272.6 527.8,273.8 529.8,273.8 529.8,279.48 531.2,279.48 531.2,285.38 529.8,285.38 529.8,299.15 531.2,299.15 531.2,305.05 529.8,305.05 529.8,318.82 531.2,318.82 531.2,324.72 529.8,324.72 529.8,330.4 527.8,330.4 527.8,331.6 508.4,331.6" fill="#fff" stroke="#1a1a1a" stroke-width="1.1" stroke-linejoin="miter"/>
<polygon points="506.6,344.6 527.4,344.6 527.4,345.8 529.4,345.8 529.4,351.09 530.8,351.09 530.8,356.65 529.4,356.65 529.4,369.62 530.8,369.62 530.8,375.18 529.4,375.18 529.4,388.15 530.8,388.15 530.8,393.71 529.4,393.71 529.4,399 527.4,399 527.4,400.2 506.6,400.2" fill="#fff" stroke="#1a1a1a" stroke-width="1.1" stroke-linejoin="miter"/>
<polygon points="504.6,400.2 528,400.2 528,421 526.6,421 526.6,423 528.6,423 528.6,444 526.6,444 526.6,450 521,450 521,453.6 504.6,453.6 502.6,449 501.6,438 503.6,438 503.6,428 504.6,420" fill="#fff" stroke="#1a1a1a" stroke-width="1.1" stroke-linejoin="miter"/>
<polygon points="549.4,271.6 557.56,271.6 557.56,269.4 566.8,268.6 574.2,268.6 583.44,269.4 583.44,271.6 591.6,271.6 591.6,276.93 593.6,276.93 593.6,285.74 589.6,285.74 589.6,289.54 584.6,289.54 584.6,292.4 556.4,292.4 556.4,289.54 551.4,289.54 551.4,285.74 547.4,285.74 547.4,276.93 549.4,276.93" fill="#fff" stroke="#1a1a1a" stroke-width="1.1" stroke-linejoin="miter"/>
<polygon points="608.6,278.6 629.6,278.6 629.6,279.8 631.6,279.8 631.6,285.44 633,285.44 633,291.3 631.6,291.3 631.6,304.97 633,304.97 633,310.83 631.6,310.83 631.6,324.5 633,324.5 633,330.36 631.6,330.36 631.6,336 629.6,336 629.6,337.2 608.6,337.2" fill="#fff" stroke="#1a1a1a" stroke-width="1.1" stroke-linejoin="miter"/>
<polygon points="608.6,278.6 612,278.6 612,280 628,280 628,278.6 631.6,278.6" fill="none" stroke="#1a1a1a" stroke-width="0.01" stroke-linejoin="miter"/>
<polygon points="607,349 628.2,349 628.2,350.2 630.2,350.2 630.2,355.53 631.6,355.53 631.6,361.13 630.2,361.13 630.2,374.2 631.6,374.2 631.6,379.8 630.2,379.8 630.2,392.87 631.6,392.87 631.6,398.47 630.2,398.47 630.2,403.8 628.2,403.8 628.2,405 607,405" fill="#fff" stroke="#1a1a1a" stroke-width="1.1" stroke-linejoin="miter"/>
<polygon points="603.4,405 629.4,405 629.4,424 631,424 631,446 629,446 629,458 606,458 606,452.6 601.6,452.6 601.6,430 603.4,430" fill="#fff" stroke="#1a1a1a" stroke-width="1.1" stroke-linejoin="miter"/>
<line x1="529.8" y1="274.4" x2="547.4" y2="276.6" stroke="#1a1a1a" stroke-width="1" />
<line x1="593.6" y1="277.6" x2="608.6" y2="279.6" stroke="#1a1a1a" stroke-width="1" />
<line x1="528" y1="453" x2="606" y2="456.6" stroke="#1a1a1a" stroke-width="1.1" stroke-dasharray="9 3.4"/>
<path d="M715.6 280.4 L652 277.6 L647 401.4 L715.6 404.4" fill="none" stroke="#1a1a1a" stroke-width="1.2" stroke-dasharray="7 3.2"/>
<line x1="717.6" y1="314" x2="716.6" y2="350" stroke="#1a1a1a" stroke-width="1.2" stroke-dasharray="7 3.2"/>
<line x1="716" y1="390" x2="715.6" y2="404.4" stroke="#1a1a1a" stroke-width="1.2" stroke-dasharray="5 3"/>
<polygon points="715.8,273.4 724.55,273.4 724.55,276.4 728.61,276.4 730.3,274.8 737.74,274.8 737.74,273.4 744.8,273.4 744.8,286 746.4,286 746.4,291.04 747.2,291.04 747.2,299.44 744.8,299.44 744.8,311.2 740.2,311.2 740.2,315.4 720.4,315.4 720.4,311.2 715.8,311.2 715.8,299.44 713.4,299.44 713.4,291.04 714.2,291.04 714.2,286 715.8,286" fill="#fff" stroke="#1a1a1a" stroke-width="1.1" stroke-linejoin="miter"/>
<polygon points="712.8,348.2 721.29,348.2 721.29,351.2 725.25,351.2 726.9,349.6 734.16,349.6 734.16,348.2 741,348.2 741,360.98 742.6,360.98 742.6,366.09 743.4,366.09 743.4,374.61 741,374.61 741,386.54 736.4,386.54 736.4,390.8 717.4,390.8 717.4,386.54 712.8,386.54 712.8,374.61 710.4,374.61 710.4,366.09 711.2,366.09 711.2,360.98 712.8,360.98" fill="#fff" stroke="#1a1a1a" stroke-width="1.1" stroke-linejoin="miter"/>
<polygon points="709.8,425 718.09,425 718.09,428 721.98,428 723.6,426.4 730.73,426.4 730.73,425 737.4,425 737.4,437.9 739,437.9 739,443.06 739.8,443.06 739.8,451.66 737.4,451.66 737.4,463.7 732.8,463.7 732.8,468 714.4,468 714.4,463.7 709.8,463.7 709.8,451.66 707.4,451.66 707.4,443.06 708.2,443.06 708.2,437.9 709.8,437.9" fill="#fff" stroke="#1a1a1a" stroke-width="1.1" stroke-linejoin="miter"/>
<polygon points="391.8,379.4 405.3,373.4 405.3,408 391.8,413.2" fill="none" stroke="#c4c4c4" stroke-width="0.8"/>
<polygon points="407,362.4 417.2,358.2 417.2,397.8 407,403" fill="none" stroke="#c4c4c4" stroke-width="0.8"/>
<polygon points="418.9,357.2 427.4,354.8 427.4,396.4 418.9,399.6" fill="none" stroke="#c4c4c4" stroke-width="0.8"/>
<circle cx="418.6" cy="302.2" r="8" fill="#fff" stroke="#111" stroke-width="1.4"/>
<text transform="translate(418.6 307.38) scale(0.9 1)" font-size="14.6" fill="#111" font-weight="bold" text-anchor="middle" >3</text>
<circle cx="468.8" cy="276.2" r="8" fill="#fff" stroke="#111" stroke-width="1.4"/>
<text transform="translate(468.8 281.38) scale(0.9 1)" font-size="14.6" fill="#111" font-weight="bold" text-anchor="middle" >4</text>
<circle cx="519" cy="303.2" r="8" fill="#fff" stroke="#111" stroke-width="1.4"/>
<text transform="translate(519 308.38) scale(0.9 1)" font-size="14.6" fill="#111" font-weight="bold" text-anchor="middle" >5</text>
<circle cx="417.2" cy="373.6" r="8" fill="#fff" stroke="#111" stroke-width="1.4"/>
<text transform="translate(417.2 378.78) scale(0.9 1)" font-size="14.6" fill="#111" font-weight="bold" text-anchor="middle" >2</text>
<circle cx="413.4" cy="430.8" r="8" fill="#fff" stroke="#111" stroke-width="1.4"/>
<text transform="translate(413.4 435.98) scale(0.9 1)" font-size="14.6" fill="#111" font-weight="bold" text-anchor="middle" >1</text>
<circle cx="518.2" cy="377.8" r="8" fill="#fff" stroke="#111" stroke-width="1.4"/>
<text transform="translate(518.2 382.98) scale(0.9 1)" font-size="14.6" fill="#111" font-weight="bold" text-anchor="middle" >6</text>
<circle cx="513.8" cy="434.9" r="8" fill="#fff" stroke="#111" stroke-width="1.4"/>
<text transform="translate(513.8 440.08) scale(0.9 1)" font-size="14.6" fill="#111" font-weight="bold" text-anchor="middle" >7</text>
<circle cx="568.2" cy="280.4" r="8" fill="#fff" stroke="#111" stroke-width="1.4"/>
<text transform="translate(568.2 285.58) scale(0.9 1)" font-size="14.6" fill="#111" font-weight="bold" text-anchor="middle" >8</text>
<circle cx="619" cy="308.4" r="8" fill="#fff" stroke="#111" stroke-width="1.4"/>
<text transform="translate(619 313.58) scale(0.9 1)" font-size="14.6" fill="#111" font-weight="bold" text-anchor="middle" >9</text>
<circle cx="618.4" cy="381.8" r="8" fill="#fff" stroke="#111" stroke-width="1.4"/>
<text transform="translate(618.4 386.63) scale(0.82 1)" font-size="13.6" fill="#111" font-weight="bold" text-anchor="middle" >10</text>
<circle cx="613.4" cy="438.6" r="8" fill="#fff" stroke="#111" stroke-width="1.4"/>
<text transform="translate(613.4 443.43) scale(0.82 1)" font-size="13.6" fill="#111" font-weight="bold" text-anchor="middle" >11</text>
<circle cx="730" cy="294" r="8" fill="#fff" stroke="#111" stroke-width="1.4"/>
<text transform="translate(730 299.18) scale(0.9 1)" font-size="14.6" fill="#111" font-weight="bold" text-anchor="middle" >2</text>
<circle cx="727" cy="369.2" r="8" fill="#fff" stroke="#111" stroke-width="1.4"/>
<text transform="translate(727 374.38) scale(0.9 1)" font-size="14.6" fill="#111" font-weight="bold" text-anchor="middle" >1</text>
<circle cx="723.8" cy="446" r="8" fill="#fff" stroke="#111" stroke-width="1.4"/>
<text transform="translate(723.8 451.18) scale(0.9 1)" font-size="14.6" fill="#111" font-weight="bold" text-anchor="middle" >1</text>
<text x="497.8" y="257.6" font-weight="bold" fill="#111"><tspan font-size="10.8">Корпус </tspan><tspan font-size="13.8">10.1</tspan></text>
<text x="729" y="335.4" font-weight="bold" fill="#111"><tspan font-size="12.6">Корпус </tspan><tspan font-size="16.6">10.2</tspan></text>
<text x="744.8" y="446.2" font-weight="bold" fill="#111"><tspan font-size="10.6">Корпус </tspan><tspan font-size="13.6">10.3</tspan></text>
<text x="433.8" y="351.8" font-size="9.5" fill="#7c0404" font-weight="bold" text-anchor="start" >Автостоянка 1</text>
<text x="536.6" y="353.2" font-size="9.2" fill="#111" font-weight="bold" text-anchor="start" >Автостоянка 2</text>
<text x="653.8" y="337.6" font-size="8.6" fill="#111" font-weight="bold" text-anchor="start" >Автостоянка 3</text>
<g id="map">
<polygon points="400.5,592 497,592 497,712 400.5,726" fill="#e9e9ea" stroke="none" stroke-width="0"/>
<polygon points="505,596 511,589 566,566 572,596 598,628 588,640 505,640" fill="#e9e9ea" stroke="none" stroke-width="0"/>
<polygon points="505,668 602,668 596,690 602,716 575,712 505,712" fill="#e9e9ea" stroke="none" stroke-width="0"/>
<polygon points="579.1,545 601.9,545 696.8,720 674,720" fill="#efeff0" stroke="none" stroke-width="0"/>
<line x1="590.5" y1="545" x2="685.4" y2="720" stroke="#fff" stroke-width="2.2" />
<polygon points="569,568 578,559 612,609 603,618" fill="#e9e9ea" stroke="none" stroke-width="0"/>
<polygon points="598,622 608,612 642,660 633,668" fill="#e9e9ea" stroke="none" stroke-width="0"/>
<polygon points="603,560 613,551 645,592 634,600" fill="#e9e9ea" stroke="none" stroke-width="0"/>
<polygon points="626,551 700,515 722,515 781,640 760,652 742,622 686,640 672,618 650,596" fill="#e9e9ea" stroke="none" stroke-width="0"/>
<polygon points="636,598 650,590 690,644 668,640 660,634" fill="#e9e9ea" stroke="none" stroke-width="0"/>
<polygon points="662,648 686,640 742,620 764,655 712,690 700,694" fill="#e9e9ea" stroke="none" stroke-width="0"/>
<polygon points="632,672 642,664 676,700 668,710" fill="#e9e9ea" stroke="none" stroke-width="0"/>
<polygon points="597,690 626,678 652,708 626,734 600,718" fill="#e9e9ea" stroke="none" stroke-width="0"/>
<line x1="549.3" y1="490" x2="579.1" y2="545" stroke="#e2e2e2" stroke-width="0.8" />
<line x1="572.1" y1="490" x2="601.9" y2="545" stroke="#e2e2e2" stroke-width="0.8" />
<line x1="700" y1="490" x2="722" y2="515" stroke="#e2e2e2" stroke-width="0.8" />
<line x1="722" y1="515" x2="795" y2="668" stroke="#e2e2e2" stroke-width="0.8" />
<line x1="712" y1="490" x2="733" y2="514" stroke="#e2e2e2" stroke-width="0.8" />
<line x1="733" y1="514" x2="806" y2="664" stroke="#e2e2e2" stroke-width="0.8" />
<line x1="640" y1="716" x2="700" y2="768" stroke="#e2e2e2" stroke-width="0.8" />
<line x1="652" y1="708" x2="716" y2="768" stroke="#e2e2e2" stroke-width="0.8" />
<line x1="764" y1="656" x2="837" y2="622" stroke="#e2e2e2" stroke-width="0.8" />
<line x1="770" y1="668" x2="837" y2="636" stroke="#e2e2e2" stroke-width="0.8" />
<line x1="724" y1="516" x2="837" y2="508" stroke="#e2e2e2" stroke-width="0.8" />
<line x1="726" y1="524" x2="837" y2="518" stroke="#e2e2e2" stroke-width="0.8" />
<line x1="400" y1="736" x2="500" y2="716" stroke="#e2e2e2" stroke-width="0.8" />
<line x1="500" y1="716" x2="600" y2="730" stroke="#e2e2e2" stroke-width="0.8" />
<line x1="560" y1="760" x2="640" y2="716" stroke="#e2e2e2" stroke-width="0.8" />
<line x1="400.5" y1="634.8" x2="497" y2="634.8" stroke="#f2f3cf" stroke-width="2.4" />
<line x1="400.5" y1="670.2" x2="497" y2="670.2" stroke="#f2f3cf" stroke-width="2.4" />
<line x1="505" y1="640.5" x2="590" y2="640.5" stroke="#f2f3cf" stroke-width="2.4" />
<path d="M505 668.8 L547 669.4 L594 687.4" fill="none" stroke="#f2f3cf" stroke-width="2.4"/>
<rect x="426.6" y="593.6" width="70.4" height="40" fill="#fbfbfd" stroke="none" stroke-width="0" />
<rect x="430.1" y="599.4" width="4.4" height="10.8" fill="#4a53ab" stroke="none" stroke-width="0" />
<rect x="430.1" y="613" width="4.4" height="10" fill="#4a53ab" stroke="none" stroke-width="0" />
<rect x="430.1" y="623.9" width="4.4" height="8.5" fill="#4a53ab" stroke="none" stroke-width="0" />
<rect x="448.2" y="599.4" width="5.4" height="10.8" fill="#4a53ab" stroke="none" stroke-width="0" />
<rect x="448.2" y="613" width="5.4" height="10" fill="#4a53ab" stroke="none" stroke-width="0" />
<rect x="448.2" y="623.9" width="5.4" height="8.5" fill="#4a53ab" stroke="none" stroke-width="0" />
<rect x="434.5" y="597.6" width="21.5" height="2.8" fill="#4a53ab" stroke="none" stroke-width="0" />
<rect x="438" y="605.6" width="8" height="26.2" fill="#bdbdbd" stroke="none" stroke-width="0" />
<rect x="459.6" y="601.6" width="2.8" height="14.4" fill="#c3a9b3" stroke="none" stroke-width="0" />
<rect x="459.6" y="617.4" width="2.8" height="15" fill="#c3a9b3" stroke="none" stroke-width="0" />
<rect x="466.2" y="599.4" width="4.4" height="10.8" fill="#4a53ab" stroke="none" stroke-width="0" />
<rect x="466.2" y="613" width="4.4" height="10" fill="#4a53ab" stroke="none" stroke-width="0" />
<rect x="466.2" y="623.9" width="4.4" height="8.5" fill="#4a53ab" stroke="none" stroke-width="0" />
<rect x="475.3" y="600.9" width="7.1" height="27.3" fill="#bdbdbd" stroke="none" stroke-width="0" />
<rect x="486.7" y="598.7" width="4.3" height="8.6" fill="#4a53ab" stroke="none" stroke-width="0" />
<rect x="486.7" y="612.3" width="4.3" height="7.9" fill="#4a53ab" stroke="none" stroke-width="0" />
<rect x="486.7" y="625.2" width="4.3" height="7.2" fill="#4a53ab" stroke="none" stroke-width="0" />
<rect x="435.5" y="598.0999999999999" width="1.4" height="1.4" fill="#26264a"/>
<rect x="440.90000000000003" y="598.0999999999999" width="1.4" height="1.4" fill="#26264a"/>
<rect x="446.3" y="598.0999999999999" width="1.4" height="1.4" fill="#26264a"/>
<rect x="463.7" y="598.9" width="1.4" height="1.4" fill="#26264a"/>
<rect x="471.7" y="598.9" width="1.4" height="1.4" fill="#26264a"/>
<rect x="478.1" y="598.9" width="1.4" height="1.4" fill="#26264a"/>
<rect x="488.1" y="596.9" width="1.4" height="1.4" fill="#26264a"/>
<text x="450.6" y="642.4" font-size="5.9" fill="#6d7b98" font-weight="bold" text-anchor="middle" >10.1</text>
<text x="498" y="611.8" font-size="5.9" fill="#6d7b98" font-weight="bold" text-anchor="middle" >10.2</text>
<text x="489" y="644.4" font-size="5.9" fill="#6d7b98" font-weight="bold" text-anchor="middle" >10.3</text>
<polygon points="429.6,674.8 456.8,674.8 456.8,705.8 451.6,705.8 451.6,680 434.8,680 434.8,705.8 429.6,705.8" fill="#979797" stroke="none" stroke-width="0"/>
<polygon points="466,674.8 493.2,674.8 493.2,705.8 488,705.8 488,680 471.2,680 471.2,705.8 466,705.8" fill="#979797" stroke="none" stroke-width="0"/>
<polygon points="451.6,647 461,647 461,645.4 470,645.4 470,647 479.6,647 479.6,652.2 451.6,652.2" fill="#c6c6c6" stroke="none" stroke-width="0"/>
<rect x="424.5" y="589.5" width="34.6" height="56.2" rx="5" fill="none" stroke="#b0262b" stroke-width="2.2"/>
<polygon points="504,593 510,589 566,568.6 567.6,607 548,614.6 504,616" fill="#f4f4f6" stroke="none" stroke-width="0"/>
<polygon points="516.2,591.1 516.2,601.25 512,601.25 512,591.1" fill="#1b9aa6" stroke="none" stroke-width="0"/>
<polygon points="516.2,602.45 516.2,612.6 512,612.6 512,602.45" fill="#1b9aa6" stroke="none" stroke-width="0"/>
<rect x="520.3" y="587.5" width="10.2" height="6.9" fill="#1b9aa6" stroke="none" stroke-width="0" />
<rect x="520.3" y="595" width="10.2" height="14.6" fill="#bdbdbd" stroke="none" stroke-width="0" />
<rect x="520.3" y="602.6" width="10.2" height="7" fill="#c9b3bb" stroke="none" stroke-width="0" />
<polygon points="541.1,580.9 541.1,591.07 534.7,591.07 534.7,580.9" fill="#1b9aa6" stroke="none" stroke-width="0"/>
<polygon points="541.1,592.27 541.1,602.43 534.7,602.43 534.7,592.27" fill="#1b9aa6" stroke="none" stroke-width="0"/>
<polygon points="541.1,603.63 541.1,613.8 534.7,613.8 534.7,603.63" fill="#1b9aa6" stroke="none" stroke-width="0"/>
<rect x="543.6" y="577.3" width="11.4" height="7" fill="#1b9aa6" stroke="none" stroke-width="0" />
<rect x="543.6" y="585" width="11.4" height="21" fill="#bdbdbd" stroke="none" stroke-width="0" />
<polygon points="564.4,572 564.4,582.53 557.4,582.53 557.4,572" fill="#1b9aa6" stroke="none" stroke-width="0"/>
<polygon points="564.4,583.73 564.4,594.27 557.4,594.27 557.4,583.73" fill="#1b9aa6" stroke="none" stroke-width="0"/>
<polygon points="564.4,595.47 564.4,606 557.4,606 557.4,595.47" fill="#1b9aa6" stroke="none" stroke-width="0"/>
<polygon points="512,590.5 516.2,589 516.2,591.5 512,592.5" fill="#1b9aa6" stroke="none" stroke-width="0"/>
<polygon points="534.7,581.6 541.1,579.2 541.1,582 534.7,583" fill="#1b9aa6" stroke="none" stroke-width="0"/>
<polygon points="557.4,572.7 564.4,570.2 564.4,573 557.4,574" fill="#1b9aa6" stroke="none" stroke-width="0"/>
<text x="521.6" y="580.6" font-size="6.6" fill="#6c7a8a" font-weight="bold" text-anchor="middle" >9</text>
<polygon points="514.2,620.4 514.2,626.5 510.2,626.5 510.2,620.4" fill="#33238d" stroke="none" stroke-width="0"/>
<polygon points="514.2,627.9 514.2,634 510.2,634 510.2,627.9" fill="#33238d" stroke="none" stroke-width="0"/>
<polygon points="519.1,623.2 528.7,623.2 528.7,626.4 519.1,626.4" fill="#33238d" stroke="none" stroke-width="0"/>
<polygon points="538.9,620.4 538.9,626.5 535.1,626.5 535.1,620.4" fill="#33238d" stroke="none" stroke-width="0"/>
<polygon points="538.9,627.9 538.9,634 535.1,634 535.1,627.9" fill="#33238d" stroke="none" stroke-width="0"/>
<polygon points="544.2,624 554.4,624 554.4,627 544.2,627" fill="#33238d" stroke="none" stroke-width="0"/>
<polygon points="565.7,612.7 565.7,621.75 560.9,621.75 560.9,612.7" fill="#33238d" stroke="none" stroke-width="0"/>
<polygon points="565.7,623.15 565.7,632.2 560.9,632.2 560.9,623.15" fill="#33238d" stroke="none" stroke-width="0"/>
<text x="511" y="643" font-size="5.9" fill="#6d7b98" font-weight="bold" text-anchor="middle" >8.1</text>
<text x="523.8" y="633.2" font-size="5.9" fill="#6d7b98" font-weight="bold" text-anchor="middle" >8.4</text>
<text x="538" y="644.2" font-size="5.9" fill="#6d7b98" font-weight="bold" text-anchor="middle" >8.2</text>
<text x="548.8" y="634.8" font-size="5.9" fill="#6d7b98" font-weight="bold" text-anchor="middle" >8.5</text>
<text x="570.4" y="634.8" font-size="5.9" fill="#6d7b98" font-weight="bold" text-anchor="middle" >8.3</text>
<polygon points="571,607 582,601.6 587.6,611.6 580,615.4 581.6,618.4 577.6,620.4 575,615.6" fill="#8f8f8f" stroke="none" stroke-width="0"/>
<polygon points="575.08,563.73 606.08,611.13 600.22,614.96 569.22,567.56" fill="#c4c4c8" stroke="none" stroke-width="0"/>
<polygon points="579.06,561.6 583.05,567.7 578.37,570.77 574.38,564.67" fill="#2279c4" stroke="none" stroke-width="0"/>
<polygon points="583.49,568.37 587.48,574.48 582.79,577.54 578.8,571.44" fill="#2279c4" stroke="none" stroke-width="0"/>
<polygon points="587.92,575.15 591.91,581.25 587.22,584.31 583.23,578.21" fill="#2279c4" stroke="none" stroke-width="0"/>
<polygon points="592.35,581.92 596.34,588.02 591.65,591.08 587.66,584.98" fill="#2279c4" stroke="none" stroke-width="0"/>
<polygon points="596.78,588.69 600.77,594.79 596.08,597.85 592.09,591.75" fill="#2279c4" stroke="none" stroke-width="0"/>
<polygon points="601.21,595.46 605.2,601.56 600.51,604.63 596.52,598.52" fill="#2279c4" stroke="none" stroke-width="0"/>
<polygon points="605.63,602.23 609.62,608.33 604.94,611.4 600.95,605.3" fill="#2279c4" stroke="none" stroke-width="0"/>
<polygon points="579.85,560.61 610.85,608.01 609.84,608.67 578.84,561.27" fill="#d8203a" stroke="none" stroke-width="0"/>
<text x="582" y="560" font-size="5.9" fill="#1b9aa6" font-weight="bold" text-anchor="middle" >5.3</text>
<polygon points="604.29,617.44 633.49,661.24 627.66,665.13 598.46,621.33" fill="#c4c4c8" stroke="none" stroke-width="0"/>
<polygon points="608.25,615.28 611.98,620.87 607.32,623.98 603.59,618.39" fill="#6240a6" stroke="none" stroke-width="0"/>
<polygon points="612.42,621.54 616.15,627.13 611.49,630.23 607.76,624.64" fill="#6240a6" stroke="none" stroke-width="0"/>
<polygon points="616.59,627.79 620.32,633.39 615.66,636.49 611.93,630.9" fill="#6240a6" stroke="none" stroke-width="0"/>
<polygon points="620.77,634.05 624.49,639.64 619.83,642.75 616.11,637.16" fill="#6240a6" stroke="none" stroke-width="0"/>
<polygon points="624.94,640.31 628.67,645.9 624.01,649.01 620.28,643.41" fill="#6240a6" stroke="none" stroke-width="0"/>
<polygon points="629.11,646.57 632.84,652.16 628.18,655.26 624.45,649.67" fill="#6240a6" stroke="none" stroke-width="0"/>
<polygon points="633.28,652.82 637.01,658.41 632.35,661.52 628.62,655.93" fill="#6240a6" stroke="none" stroke-width="0"/>
<polygon points="609.11,614.23 638.31,658.03 637.15,658.8 607.95,615" fill="#d8203a" stroke="none" stroke-width="0"/>
<text x="626.6" y="619" font-size="5.9" fill="#4d4d55" font-weight="bold" text-anchor="middle" >5.2</text>
<polygon points="617.71,550.78 642.01,588.78 636.95,592.01 612.65,554.01" fill="#c9c6d6" stroke="none" stroke-width="0"/>
<polygon points="613.46,553.97 616.5,558.73 611.61,561.85 608.57,557.1" fill="#33238d" stroke="none" stroke-width="0"/>
<polygon points="616.93,559.4 619.97,564.16 615.08,567.28 612.04,562.53" fill="#33238d" stroke="none" stroke-width="0"/>
<polygon points="620.4,564.83 623.44,569.59 618.56,572.71 615.52,567.96" fill="#33238d" stroke="none" stroke-width="0"/>
<polygon points="623.87,570.26 626.91,575.01 622.03,578.14 618.99,573.39" fill="#33238d" stroke="none" stroke-width="0"/>
<polygon points="627.34,575.69 630.38,580.44 625.5,583.57 622.46,578.81" fill="#33238d" stroke="none" stroke-width="0"/>
<polygon points="630.82,581.12 633.86,585.87 628.97,589 625.93,584.24" fill="#33238d" stroke="none" stroke-width="0"/>
<polygon points="634.29,586.55 637.33,591.3 632.44,594.43 629.4,589.67" fill="#33238d" stroke="none" stroke-width="0"/>
<polygon points="608.36,556.76 632.66,594.76 631.81,595.3 607.51,557.3" fill="#d8203a" stroke="none" stroke-width="0"/>
<text x="607.2" y="552.8" font-size="6.4" fill="#26262e" font-weight="bold" text-anchor="middle" >2.2</text>
<polygon points="647.01,599 670.01,638.8 666.9,640.6 643.9,600.8" fill="#d6b9c8" stroke="none" stroke-width="0"/>
<polygon points="647.27,598.85 670.27,638.65 669.41,639.15 646.41,599.35" fill="#d8203a" stroke="none" stroke-width="0"/>
<polygon points="650.13,597.6 652.66,601.97 649.54,603.77 647.02,599.4" fill="#33238d" stroke="none" stroke-width="0"/>
<polygon points="653.01,602.58 655.53,606.95 652.42,608.75 649.89,604.38" fill="#33238d" stroke="none" stroke-width="0"/>
<polygon points="655.88,607.55 658.41,611.92 655.29,613.72 652.77,609.35" fill="#33238d" stroke="none" stroke-width="0"/>
<polygon points="658.76,612.53 661.28,616.9 658.17,618.7 655.64,614.33" fill="#33238d" stroke="none" stroke-width="0"/>
<polygon points="661.63,617.5 664.16,621.87 661.04,623.67 658.52,619.3" fill="#33238d" stroke="none" stroke-width="0"/>
<polygon points="664.51,622.48 667.03,626.85 663.92,628.65 661.39,624.28" fill="#33238d" stroke="none" stroke-width="0"/>
<polygon points="667.38,627.45 669.91,631.82 666.79,633.62 664.27,629.25" fill="#33238d" stroke="none" stroke-width="0"/>
<polygon points="670.26,632.43 672.78,636.8 669.67,638.6 667.14,634.23" fill="#33238d" stroke="none" stroke-width="0"/>
<polygon points="637.74,600.22 646.54,595.42 648.26,598.58 639.46,603.38" fill="#33238d" stroke="none" stroke-width="0"/>
<polygon points="672.93,640.94 665.33,645.54 663.47,642.46 671.07,637.86" fill="#33238d" stroke="none" stroke-width="0"/>
<text x="658.8" y="600.2" font-size="6.4" fill="#26262e" font-weight="bold" text-anchor="middle" >2.1</text>
<text x="659.5" y="586.8" font-size="6.4" fill="#26262e" font-weight="bold" text-anchor="middle" >3.1</text>
<polygon points="638,555.2 648.7,548.7 663.1,573.1 652.3,580.3" fill="#bdbdbd" stroke="none" stroke-width="0"/>
<polygon points="653.8,545.9 665.2,540.1 679.6,564.5 668.8,571" fill="#bdbdbd" stroke="none" stroke-width="0"/>
<polygon points="670.3,536.6 683.2,530.8 696.1,555.2 686,560.2" fill="#bdbdbd" stroke="none" stroke-width="0"/>
<polygon points="627.71,550.46 631.31,547.16 634.69,550.84 631.09,554.14" fill="#4a2a8a" stroke="none" stroke-width="0"/>
<polygon points="626.97,549.65 630.57,546.35 631.38,547.23 627.78,550.53" fill="#d8203a" stroke="none" stroke-width="0"/>
<polygon points="631.6,547.07 636.56,543.94 639.23,548.16 634.28,551.3" fill="#2279c4" stroke="none" stroke-width="0"/>
<polygon points="637.23,543.51 642.19,540.37 644.87,544.59 639.91,547.73" fill="#2279c4" stroke="none" stroke-width="0"/>
<polygon points="642.87,539.94 647.82,536.8 650.5,541.03 645.54,544.16" fill="#2279c4" stroke="none" stroke-width="0"/>
<polygon points="649.09,536.2 654.63,534.35 656.21,539.1 650.67,540.95" fill="#49aee2" stroke="none" stroke-width="0"/>
<polygon points="655.39,534.1 660.93,532.25 662.51,537 656.97,538.85" fill="#49aee2" stroke="none" stroke-width="0"/>
<polygon points="661.69,532 667.23,530.15 668.81,534.9 663.27,536.75" fill="#49aee2" stroke="none" stroke-width="0"/>
<polygon points="668.1,529.89 673.4,528.37 674.77,533.18 669.47,534.69" fill="#33238d" stroke="none" stroke-width="0"/>
<polygon points="674.16,528.15 679.46,526.64 680.84,531.45 675.54,532.96" fill="#33238d" stroke="none" stroke-width="0"/>
<polygon points="680.23,526.42 685.53,524.91 686.9,529.71 681.6,531.23" fill="#33238d" stroke="none" stroke-width="0"/>
<polygon points="636.73,556.31 640.25,561.9 636.02,564.57 632.5,558.97" fill="#2279c4" stroke="none" stroke-width="0"/>
<polygon points="640.68,562.58 644.2,568.18 639.97,570.84 636.45,565.25" fill="#2279c4" stroke="none" stroke-width="0"/>
<polygon points="644.63,568.86 648.15,574.45 643.92,577.12 640.4,571.52" fill="#2279c4" stroke="none" stroke-width="0"/>
<polygon points="648.58,575.13 652.1,580.73 647.87,583.39 644.35,577.8" fill="#2279c4" stroke="none" stroke-width="0"/>
<polygon points="650.33,542.01 653.51,547.07 649.27,549.73 646.09,544.67" fill="#2279c4" stroke="none" stroke-width="0"/>
<polygon points="653.93,547.75 657.11,552.81 652.87,555.47 649.69,550.41" fill="#2279c4" stroke="none" stroke-width="0"/>
<polygon points="657.53,553.49 660.71,558.55 656.47,561.21 653.29,556.15" fill="#2279c4" stroke="none" stroke-width="0"/>
<polygon points="661.13,559.23 664.31,564.29 660.07,566.95 656.89,561.89" fill="#2279c4" stroke="none" stroke-width="0"/>
<polygon points="664.73,564.97 667.91,570.03 663.67,572.69 660.49,567.63" fill="#2279c4" stroke="none" stroke-width="0"/>
<polygon points="669.05,534.85 671.93,539.62 667.65,542.21 664.77,537.44" fill="#49aee2" stroke="none" stroke-width="0"/>
<polygon points="672.35,540.31 675.23,545.08 670.95,547.67 668.07,542.9" fill="#49aee2" stroke="none" stroke-width="0"/>
<polygon points="675.65,545.77 678.53,550.54 674.25,553.13 671.37,548.36" fill="#49aee2" stroke="none" stroke-width="0"/>
<polygon points="678.95,551.23 681.83,556 677.55,558.59 674.67,553.82" fill="#49aee2" stroke="none" stroke-width="0"/>
<polygon points="682.25,556.69 685.13,561.46 680.85,564.05 677.97,559.28" fill="#49aee2" stroke="none" stroke-width="0"/>
<polygon points="687.05,527.04 689.65,531.51 685.15,534.12 682.55,529.65" fill="#33238d" stroke="none" stroke-width="0"/>
<polygon points="690.05,532.2 692.65,536.67 688.15,539.28 685.55,534.81" fill="#33238d" stroke="none" stroke-width="0"/>
<polygon points="693.05,537.36 695.65,541.83 691.15,544.44 688.55,539.97" fill="#33238d" stroke="none" stroke-width="0"/>
<polygon points="696.05,542.52 698.65,546.99 694.15,549.6 691.55,545.13" fill="#33238d" stroke="none" stroke-width="0"/>
<polygon points="699.05,547.68 701.65,552.15 697.15,554.76 694.55,550.29" fill="#33238d" stroke="none" stroke-width="0"/>
<text x="691" y="523" font-size="6.4" fill="#26262e" font-weight="bold" text-anchor="middle" >3.2</text>
<polygon points="672,583 682,578 686,586 690,584 696,596 690,599 693,604.6 686,608 676,590.6" fill="#d3d3d6" stroke="none" stroke-width="0"/>
<polygon points="676.15,644.62 698.15,679.02 690.91,683.65 668.91,649.25" fill="#bcbcc0" stroke="none" stroke-width="0"/>
<polygon points="669.54,649.32 672.78,654.38 667.72,657.61 664.49,652.55" fill="#33238d" stroke="none" stroke-width="0"/>
<polygon points="673.21,655.05 676.45,660.11 671.39,663.35 668.15,658.29" fill="#33238d" stroke="none" stroke-width="0"/>
<polygon points="676.88,660.79 680.11,665.85 675.06,669.08 671.82,664.02" fill="#33238d" stroke="none" stroke-width="0"/>
<polygon points="680.54,666.52 683.78,671.58 678.72,674.81 675.49,669.75" fill="#33238d" stroke="none" stroke-width="0"/>
<polygon points="684.21,672.25 687.45,677.31 682.39,680.55 679.15,675.49" fill="#33238d" stroke="none" stroke-width="0"/>
<polygon points="687.88,677.99 691.11,683.05 686.06,686.28 682.82,681.22" fill="#33238d" stroke="none" stroke-width="0"/>
<polygon points="664.36,652.16 686.36,686.56 685.18,687.32 663.18,652.92" fill="#d8203a" stroke="none" stroke-width="0"/>
<text x="680.2" y="648.6" font-size="5.9" fill="#6c7a8a" font-weight="bold" text-anchor="middle" >1.1</text>
<polygon points="686.4,641.64 691.61,639.34 693.55,643.74 688.33,646.03" fill="#49aee2" stroke="none" stroke-width="0"/>
<polygon points="692.34,639.02 697.55,636.72 699.49,641.11 694.28,643.41" fill="#49aee2" stroke="none" stroke-width="0"/>
<polygon points="698.29,636.4 703.5,634.1 705.44,638.49 700.22,640.79" fill="#49aee2" stroke="none" stroke-width="0"/>
<polygon points="704.23,633.78 709.44,631.48 711.38,635.87 706.17,638.17" fill="#49aee2" stroke="none" stroke-width="0"/>
<polygon points="710.18,631.15 715.39,628.85 717.32,633.25 712.11,635.55" fill="#49aee2" stroke="none" stroke-width="0"/>
<polygon points="716.12,628.53 721.33,626.23 723.27,630.62 718.06,632.92" fill="#49aee2" stroke="none" stroke-width="0"/>
<polygon points="722.06,625.91 727.28,623.61 729.21,628 724,630.3" fill="#49aee2" stroke="none" stroke-width="0"/>
<polygon points="728.01,623.29 733.22,620.99 735.16,625.38 729.95,627.68" fill="#49aee2" stroke="none" stroke-width="0"/>
<polygon points="733.95,620.66 739.17,618.37 741.1,622.76 735.89,625.06" fill="#49aee2" stroke="none" stroke-width="0"/>
<polygon points="689.26,643.11 692.19,647.99 688.07,650.46 685.15,645.58" fill="#49aee2" stroke="none" stroke-width="0"/>
<polygon points="692.6,648.68 695.52,653.56 691.4,656.02 688.48,651.14" fill="#49aee2" stroke="none" stroke-width="0"/>
<polygon points="695.93,654.24 698.85,659.12 694.74,661.59 691.81,656.71" fill="#49aee2" stroke="none" stroke-width="0"/>
<polygon points="699.26,659.81 702.19,664.69 698.07,667.16 695.15,662.28" fill="#49aee2" stroke="none" stroke-width="0"/>
<polygon points="702.6,665.38 705.52,670.26 701.4,672.72 698.48,667.84" fill="#49aee2" stroke="none" stroke-width="0"/>
<polygon points="705.93,670.94 708.85,675.82 704.74,678.29 701.81,673.41" fill="#49aee2" stroke="none" stroke-width="0"/>
<polygon points="742.76,619.49 745.72,624.36 741.62,626.86 738.66,621.99" fill="#49aee2" stroke="none" stroke-width="0"/>
<polygon points="746.13,625.04 749.09,629.91 744.99,632.41 742.03,627.54" fill="#49aee2" stroke="none" stroke-width="0"/>
<polygon points="749.51,630.59 752.47,635.46 748.37,637.96 745.41,633.09" fill="#49aee2" stroke="none" stroke-width="0"/>
<polygon points="752.88,636.14 755.84,641.01 751.74,643.51 748.78,638.64" fill="#49aee2" stroke="none" stroke-width="0"/>
<polygon points="718.58,634.49 721.76,639.36 718.24,641.65 715.06,636.78" fill="#2279c4" stroke="none" stroke-width="0"/>
<polygon points="722.2,640.03 725.38,644.9 721.86,647.19 718.68,642.32" fill="#2279c4" stroke="none" stroke-width="0"/>
<polygon points="725.82,645.57 729,650.44 725.48,652.73 722.3,647.86" fill="#2279c4" stroke="none" stroke-width="0"/>
<polygon points="729.44,651.11 732.62,655.98 729.1,658.27 725.92,653.4" fill="#2279c4" stroke="none" stroke-width="0"/>
<polygon points="733.06,656.65 736.24,661.52 732.72,663.81 729.54,658.94" fill="#2279c4" stroke="none" stroke-width="0"/>
<polygon points="755.46,640.37 760.46,648.77 756.34,651.23 751.34,642.83" fill="#4d3fa6" stroke="none" stroke-width="0"/>
<polygon points="756.41,639.81 761.41,648.21 760.38,648.82 755.38,640.42" fill="#d8203a" stroke="none" stroke-width="0"/>
<polygon points="700.59,670.67 705.19,678.47 703.99,679.18 699.39,671.38" fill="#d8203a" stroke="none" stroke-width="0"/>
<polygon points="729,640.6 737.4,636 748.6,654.6 740.4,659.2" fill="#9b9b9b" stroke="none" stroke-width="0"/>
<polygon points="705.4,655.4 713.6,651 724.6,671 716.6,675.6" fill="#9b9b9b" stroke="none" stroke-width="0"/>
<text x="759.6" y="657.2" font-size="5.9" fill="#33a6a0" font-weight="bold" text-anchor="middle" >4.1</text>
<text x="737.8" y="669.8" font-size="5.9" fill="#3d78a8" font-weight="bold" text-anchor="middle" >4.2</text>
<polygon points="636.42,670.91 667.82,704.01 662.74,708.83 631.34,675.73" fill="#bcbcc0" stroke="none" stroke-width="0"/>
<polygon points="640.11,667.96 644.04,672.11 639.98,675.97 636.04,671.82" fill="#6240a6" stroke="none" stroke-width="0"/>
<polygon points="644.59,672.69 648.53,676.84 644.46,680.69 640.53,676.55" fill="#6240a6" stroke="none" stroke-width="0"/>
<polygon points="649.08,677.42 653.01,681.57 648.95,685.42 645.02,681.27" fill="#6240a6" stroke="none" stroke-width="0"/>
<polygon points="653.56,682.15 657.5,686.3 653.44,690.15 649.5,686" fill="#6240a6" stroke="none" stroke-width="0"/>
<polygon points="658.05,686.88 661.98,691.03 657.92,694.88 653.99,690.73" fill="#6240a6" stroke="none" stroke-width="0"/>
<polygon points="662.54,691.61 666.47,695.75 662.41,699.61 658.47,695.46" fill="#6240a6" stroke="none" stroke-width="0"/>
<polygon points="667.02,696.33 670.96,700.48 666.89,704.34 662.96,700.19" fill="#6240a6" stroke="none" stroke-width="0"/>
<polygon points="640.77,666.78 672.17,699.88 671.16,700.84 639.76,667.74" fill="#d8203a" stroke="none" stroke-width="0"/>
<text x="675.4" y="704.4" font-size="5.9" fill="#33333b" font-weight="bold" text-anchor="middle" >5.1</text>
<polygon points="604.6,697 621.6,685.6 642.6,711.6 625,723.4 615,725.6 598.6,716.4" fill="#e4e0cc" stroke="none" stroke-width="0"/>
<polygon points="610.6,704.6 624.6,695.6 634.6,709 620.6,718.4" fill="#a4a4a2" stroke="none" stroke-width="0"/>
<polygon points="606,708.6 612.6,704.4 620,714.6 613,719.6" fill="#c9c5a8" stroke="none" stroke-width="0"/>
<polygon points="601.62,693.07 607.57,689.1 609.68,692.26 603.73,696.23" fill="#1c2b63" stroke="none" stroke-width="0"/>
<polygon points="608.32,688.6 614.27,684.64 616.38,687.8 610.43,691.76" fill="#1c2b63" stroke="none" stroke-width="0"/>
<polygon points="615.02,684.14 620.97,680.17 623.08,683.33 617.13,687.3" fill="#1c2b63" stroke="none" stroke-width="0"/>
<polygon points="624.16,680.65 627.73,685.05 624.77,687.45 621.21,683.05" fill="#1c2b63" stroke="none" stroke-width="0"/>
<polygon points="628.29,685.75 631.86,690.15 628.91,692.55 625.34,688.15" fill="#1c2b63" stroke="none" stroke-width="0"/>
<polygon points="632.43,690.85 635.99,695.25 633.04,697.65 629.47,693.25" fill="#1c2b63" stroke="none" stroke-width="0"/>
<polygon points="636.56,695.95 640.13,700.35 637.17,702.75 633.61,698.35" fill="#1c2b63" stroke="none" stroke-width="0"/>
<polygon points="640.69,701.05 644.26,705.45 641.31,707.85 637.74,703.45" fill="#1c2b63" stroke="none" stroke-width="0"/>
<polygon points="644.83,706.15 648.39,710.55 645.44,712.95 641.87,708.55" fill="#1c2b63" stroke="none" stroke-width="0"/>
<polygon points="647.9,713.92 641.65,718.21 639.5,715.08 645.75,710.79" fill="#1c2b63" stroke="none" stroke-width="0"/>
<polygon points="640.9,718.72 634.65,723.01 632.5,719.88 638.75,715.59" fill="#1c2b63" stroke="none" stroke-width="0"/>
<polygon points="633.9,723.52 627.65,727.81 625.5,724.68 631.75,720.39" fill="#1c2b63" stroke="none" stroke-width="0"/>
<polygon points="626.21,728.45 621.34,729.64 620.44,725.95 625.31,724.76" fill="#1c2b63" stroke="none" stroke-width="0"/>
<polygon points="620.46,729.85 615.59,731.04 614.69,727.35 619.56,726.16" fill="#1c2b63" stroke="none" stroke-width="0"/>
<polygon points="613.37,730.73 607.45,727.37 609.33,724.07 615.25,727.43" fill="#1c2b63" stroke="none" stroke-width="0"/>
<polygon points="606.67,726.93 600.75,723.57 602.63,720.27 608.55,723.63" fill="#1c2b63" stroke="none" stroke-width="0"/>
<polygon points="599.97,723.13 594.05,719.77 595.93,716.47 601.85,719.83" fill="#1c2b63" stroke="none" stroke-width="0"/>
<polygon points="592.94,716.87 595.22,710.06 598.83,711.26 596.54,718.08" fill="#1c2b63" stroke="none" stroke-width="0"/>
<polygon points="595.51,709.2 597.79,702.39 601.39,703.6 599.11,710.41" fill="#1c2b63" stroke="none" stroke-width="0"/>
<polygon points="598.07,701.54 600.36,694.72 603.96,695.93 601.68,702.74" fill="#1c2b63" stroke="none" stroke-width="0"/>
<text x="650.2" y="723.9" font-size="6.6" fill="#26262e" font-weight="bold" text-anchor="middle" >6</text>
<polygon points="506.7,671 556,671 593.7,686 590,712 556,707.4 506.7,707.4" fill="#f5f5f7" stroke="none" stroke-width="0"/>
<polygon points="518.2,674.5 518.2,682.87 513.4,682.87 513.4,674.5" fill="#1b9aa6" stroke="none" stroke-width="0"/>
<polygon points="518.2,684.07 518.2,692.43 513.4,692.43 513.4,684.07" fill="#1b9aa6" stroke="none" stroke-width="0"/>
<polygon points="518.2,693.63 518.2,702 513.4,702 513.4,693.63" fill="#1b9aa6" stroke="none" stroke-width="0"/>
<rect x="520" y="675.8" width="11.5" height="26.8" fill="#bdbdbd" stroke="none" stroke-width="0" />
<rect x="522.6" y="674.9" width="7.6" height="2.8" fill="#1c2b63" stroke="none" stroke-width="0" />
<polygon points="539.2,676.4 539.2,684.13 534.4,684.13 534.4,676.4" fill="#1b9aa6" stroke="none" stroke-width="0"/>
<polygon points="539.2,685.33 539.2,693.07 534.4,693.07 534.4,685.33" fill="#1b9aa6" stroke="none" stroke-width="0"/>
<polygon points="539.2,694.27 539.2,702 534.4,702 534.4,694.27" fill="#1b9aa6" stroke="none" stroke-width="0"/>
<rect x="543" y="682.5" width="12.4" height="20.1" fill="#ababab" stroke="none" stroke-width="0" />
<polygon points="566.08,685.51 564.45,691.25 560.02,689.99 561.65,684.25" fill="#1b9aa6" stroke="none" stroke-width="0"/>
<polygon points="564.18,692.21 562.55,697.95 558.12,696.69 559.75,690.95" fill="#1b9aa6" stroke="none" stroke-width="0"/>
<polygon points="562.28,698.91 560.65,704.65 556.22,703.39 557.85,697.65" fill="#1b9aa6" stroke="none" stroke-width="0"/>
<polygon points="566.9,691.1 580.3,694.9 577.4,710.2 564.1,706.4" fill="#bdbdbd" stroke="none" stroke-width="0"/>
<polygon points="572.08,686.96 579.68,689.26 578.92,691.74 571.32,689.44" fill="#1c2b63" stroke="none" stroke-width="0"/>
<polygon points="587.17,692.22 585.52,697.96 581.1,696.68 582.75,690.94" fill="#1b9aa6" stroke="none" stroke-width="0"/>
<polygon points="585.24,698.92 583.58,704.66 579.16,703.38 580.82,697.64" fill="#1b9aa6" stroke="none" stroke-width="0"/>
<polygon points="583.3,705.62 581.65,711.36 577.23,710.08 578.88,704.34" fill="#1b9aa6" stroke="none" stroke-width="0"/>
<text x="510" y="672.8" font-size="5.9" fill="#4d4d55" font-weight="bold" text-anchor="middle" >7.1</text>
<text x="525.8" y="670.2" font-size="5.9" fill="#2aa39e" font-weight="bold" text-anchor="middle" >7.2</text>
<text x="544.9" y="676.6" font-size="5.9" fill="#2aa39e" font-weight="bold" text-anchor="middle" >7.3</text>
<text x="566" y="681.7" font-size="5.9" fill="#2aa39e" font-weight="bold" text-anchor="middle" >7.4</text>
<text x="578" y="685" font-size="5.9" fill="#2aa39e" font-weight="bold" text-anchor="middle" >7.5</text>
<text x="590.2" y="687.5" font-size="5.9" fill="#2aa39e" font-weight="bold" text-anchor="middle" >7.6</text>
<rect x="406.6" y="574.4" width="26.8" height="13.8" rx="1.6" fill="#fff" stroke="#dcdcdc" stroke-width="0.6"/>
<text transform="translate(408.4 577.71) scale(0.9 1)" font-size="3.0" fill="#888" font-weight="normal" text-anchor="start" >Подземная</text>
<text transform="translate(408.4 581.96) scale(0.9 1)" font-size="3.0" fill="#888" font-weight="normal" text-anchor="start" >автостоянка</text>
<text transform="translate(408.4 586.2) scale(0.9 1)" font-size="3.5" fill="#3c3c46" font-weight="bold" text-anchor="start" >на 892 м/места</text>
<rect x="457" y="570.6" width="27" height="14" rx="1.6" fill="#fff" stroke="#dcdcdc" stroke-width="0.6"/>
<text transform="translate(458.8 573.96) scale(0.9 1)" font-size="3.0" fill="#888" font-weight="normal" text-anchor="start" >Подземная</text>
<text transform="translate(458.8 578.27) scale(0.9 1)" font-size="3.0" fill="#888" font-weight="normal" text-anchor="start" >автостоянка</text>
<text transform="translate(458.8 582.58) scale(0.9 1)" font-size="3.5" fill="#3c3c46" font-weight="bold" text-anchor="start" >на 347 м/места</text>
<rect x="488" y="568.4" width="27" height="13.2" rx="1.6" fill="#fff" stroke="#dcdcdc" stroke-width="0.6"/>
<text transform="translate(489.8 571.57) scale(0.9 1)" font-size="3.0" fill="#888" font-weight="normal" text-anchor="start" >Подземная</text>
<text transform="translate(489.8 575.63) scale(0.9 1)" font-size="3.0" fill="#888" font-weight="normal" text-anchor="start" >автостоянка</text>
<text transform="translate(489.8 579.69) scale(0.9 1)" font-size="3.5" fill="#3c3c46" font-weight="bold" text-anchor="start" >на 313 м/места</text>
<rect x="516.6" y="558.4" width="26.8" height="13.2" rx="1.6" fill="#fff" stroke="#dcdcdc" stroke-width="0.6"/>
<text transform="translate(518.4 561.57) scale(0.9 1)" font-size="3.0" fill="#888" font-weight="normal" text-anchor="start" >Подземная</text>
<text transform="translate(518.4 565.63) scale(0.9 1)" font-size="3.0" fill="#888" font-weight="normal" text-anchor="start" >автостоянка</text>
<text transform="translate(518.4 569.69) scale(0.9 1)" font-size="3.5" fill="#3c3c46" font-weight="bold" text-anchor="start" >на 313 м/места</text>
<rect x="541" y="546.6" width="33.6" height="10.8" rx="1.6" fill="#fff" stroke="#dcdcdc" stroke-width="0.6"/>
<text transform="translate(542.8 550.34) scale(0.9 1)" font-size="3.0" fill="#888" font-weight="normal" text-anchor="start" >Подземная автостоянка</text>
<text transform="translate(542.8 555.14) scale(0.9 1)" font-size="3.5" fill="#3c3c46" font-weight="bold" text-anchor="start" >на 400 м/места</text>
<rect x="581.6" y="536" width="33.8" height="10.6" rx="1.6" fill="#fff" stroke="#dcdcdc" stroke-width="0.6"/>
<text transform="translate(583.4 539.67) scale(0.9 1)" font-size="3.0" fill="#888" font-weight="normal" text-anchor="start" >Подземная автостоянка</text>
<text transform="translate(583.4 544.39) scale(0.9 1)" font-size="3.5" fill="#3c3c46" font-weight="bold" text-anchor="start" >на 192 м/места</text>
<rect x="599" y="519.4" width="34.7" height="10" rx="1.6" fill="#fff" stroke="#dcdcdc" stroke-width="0.6"/>
<text transform="translate(600.8 522.87) scale(0.9 1)" font-size="3.0" fill="#888" font-weight="normal" text-anchor="start" >Подземная автостоянка</text>
<text transform="translate(600.8 527.31) scale(0.9 1)" font-size="3.5" fill="#3c3c46" font-weight="bold" text-anchor="start" >на 179 м/места</text>
<rect x="617.2" y="505.7" width="35.1" height="10.8" rx="1.6" fill="#fff" stroke="#dcdcdc" stroke-width="0.6"/>
<text transform="translate(619 509.44) scale(0.9 1)" font-size="3.0" fill="#888" font-weight="normal" text-anchor="start" >Подземная автостоянка</text>
<text transform="translate(619 514.24) scale(0.9 1)" font-size="3.5" fill="#3c3c46" font-weight="bold" text-anchor="start" >на 257 м/места</text>
<rect x="704" y="525.8" width="35.4" height="10" rx="1.6" fill="#fff" stroke="#dcdcdc" stroke-width="0.6"/>
<text transform="translate(705.8 529.27) scale(0.9 1)" font-size="3.0" fill="#888" font-weight="normal" text-anchor="start" >Подземная автостоянка</text>
<text transform="translate(705.8 533.71) scale(0.9 1)" font-size="3.5" fill="#3c3c46" font-weight="bold" text-anchor="start" >на 298 м/места</text>
<rect x="671.6" y="613.6" width="34.4" height="11" rx="1.6" fill="#fff" stroke="#dcdcdc" stroke-width="0.6"/>
<text transform="translate(673.4 617.41) scale(0.9 1)" font-size="3.0" fill="#888" font-weight="normal" text-anchor="start" >Подземная автостоянка</text>
<text transform="translate(673.4 622.3) scale(0.9 1)" font-size="3.5" fill="#3c3c46" font-weight="bold" text-anchor="start" >на 298 м/места</text>
<rect x="751" y="665" width="34" height="10.6" rx="1.6" fill="#fff" stroke="#dcdcdc" stroke-width="0.6"/>
<text transform="translate(752.8 668.67) scale(0.9 1)" font-size="3.0" fill="#888" font-weight="normal" text-anchor="start" >Подземная автостоянка</text>
<text transform="translate(752.8 673.39) scale(0.9 1)" font-size="3.5" fill="#3c3c46" font-weight="bold" text-anchor="start" >на 300 м/места</text>
<rect x="729" y="680" width="32.6" height="10" rx="1.6" fill="#fff" stroke="#dcdcdc" stroke-width="0.6"/>
<text transform="translate(730.8 683.47) scale(0.9 1)" font-size="3.0" fill="#888" font-weight="normal" text-anchor="start" >Подземная автостоянка</text>
<text transform="translate(730.8 687.91) scale(0.9 1)" font-size="3.5" fill="#3c3c46" font-weight="bold" text-anchor="start" >на 300 м/места</text>
<rect x="694.6" y="697.2" width="32.4" height="10.4" rx="1.6" fill="#fff" stroke="#dcdcdc" stroke-width="0.6"/>
<text transform="translate(696.4 700.81) scale(0.9 1)" font-size="3.0" fill="#888" font-weight="normal" text-anchor="start" >Подземная автостоянка</text>
<text transform="translate(696.4 705.43) scale(0.9 1)" font-size="3.5" fill="#3c3c46" font-weight="bold" text-anchor="start" >на 141 м/места</text>
<rect x="664.4" y="715.4" width="32.6" height="10.4" rx="1.6" fill="#fff" stroke="#dcdcdc" stroke-width="0.6"/>
<text transform="translate(666.2 719.01) scale(0.9 1)" font-size="3.0" fill="#888" font-weight="normal" text-anchor="start" >Подземная автостоянка</text>
<text transform="translate(666.2 723.63) scale(0.9 1)" font-size="3.5" fill="#3c3c46" font-weight="bold" text-anchor="start" >на 350 м/места</text>
<rect x="619.5" y="730.7" width="27.7" height="12" rx="1.6" fill="#fff" stroke="#dcdcdc" stroke-width="0.6"/>
<text transform="translate(621.3 734.86) scale(0.9 1)" font-size="3.0" fill="#888" font-weight="normal" text-anchor="start" >Подземная автостоянка</text>
<text transform="translate(621.3 740.19) scale(0.9 1)" font-size="3.5" fill="#3c3c46" font-weight="bold" text-anchor="start" >на 416 м/места</text>
<rect x="565" y="723.6" width="24.9" height="11.4" rx="1.6" fill="#fff" stroke="#dcdcdc" stroke-width="0.6"/>
<text transform="translate(566.8 726.34) scale(0.9 1)" font-size="3.0" fill="#888" font-weight="normal" text-anchor="start" >Подземная</text>
<text transform="translate(566.8 729.84) scale(0.9 1)" font-size="3.0" fill="#888" font-weight="normal" text-anchor="start" >автостоянка</text>
<text transform="translate(566.8 733.35) scale(0.9 1)" font-size="3.5" fill="#3c3c46" font-weight="bold" text-anchor="start" >на 409 м/места</text>
<rect x="519.1" y="715" width="25.8" height="11.5" rx="1.6" fill="#fff" stroke="#dcdcdc" stroke-width="0.6"/>
<text transform="translate(520.9 717.76) scale(0.9 1)" font-size="3.0" fill="#888" font-weight="normal" text-anchor="start" >Полуподземная</text>
<text transform="translate(520.9 721.3) scale(0.9 1)" font-size="3.0" fill="#888" font-weight="normal" text-anchor="start" >автостоянка</text>
<text transform="translate(520.9 724.84) scale(0.9 1)" font-size="3.5" fill="#3c3c46" font-weight="bold" text-anchor="start" >на 552 м/места</text>
<rect x="519.1" y="730.3" width="25.8" height="11.5" rx="1.6" fill="#fff" stroke="#dcdcdc" stroke-width="0.6"/>
<text transform="translate(520.9 733.06) scale(0.9 1)" font-size="3.0" fill="#888" font-weight="normal" text-anchor="start" >Подземная</text>
<text transform="translate(520.9 736.6) scale(0.9 1)" font-size="3.0" fill="#888" font-weight="normal" text-anchor="start" >автостоянка</text>
<text transform="translate(520.9 740.14) scale(0.9 1)" font-size="3.5" fill="#3c3c46" font-weight="bold" text-anchor="start" >на 250 м/места</text>
<rect x="493" y="650.6" width="25.4" height="14" rx="1.6" fill="#fff" stroke="#dcdcdc" stroke-width="0.6"/>
<text transform="translate(494.8 653.96) scale(0.9 1)" font-size="3.0" fill="#888" font-weight="normal" text-anchor="start" >Подземная</text>
<text transform="translate(494.8 658.27) scale(0.9 1)" font-size="3.0" fill="#888" font-weight="normal" text-anchor="start" >автостоянка</text>
<text transform="translate(494.8 662.58) scale(0.9 1)" font-size="3.5" fill="#3c3c46" font-weight="bold" text-anchor="start" >на 272 м/места</text>
<rect x="607" y="666.3" width="31.6" height="7.6" rx="1.6" fill="#fff" stroke="#dcdcdc" stroke-width="0.6"/>
<text transform="translate(608.8 668.93) scale(0.9 1)" font-size="3.0" fill="#888" font-weight="normal" text-anchor="start" >Подземная автостоянка</text>
<text transform="translate(608.8 672.31) scale(0.9 1)" font-size="3.5" fill="#3c3c46" font-weight="bold" text-anchor="start" >на 667 м/места</text>
<rect x="572.4" y="614.4" width="27.6" height="12.2" rx="1.6" fill="#fff" stroke="#dcdcdc" stroke-width="0.6"/>
<text transform="translate(574.2 617.33) scale(0.9 1)" font-size="3.2" fill="#888" font-weight="normal" text-anchor="start" >Крышная</text>
<text transform="translate(574.2 621.08) scale(0.9 1)" font-size="3.2" fill="#888" font-weight="normal" text-anchor="start" >автостоянка</text>
<text transform="translate(574.2 624.84) scale(0.9 1)" font-size="3.7" fill="#3c3c46" font-weight="bold" text-anchor="start" >на 60 м/места</text>
<rect x="556.6" y="636.4" width="35.4" height="14" rx="1.6" fill="#fff" stroke="#dcdcdc" stroke-width="0.6"/>
<text transform="translate(558.4 639.76) scale(0.9 1)" font-size="3.2" fill="#888" font-weight="normal" text-anchor="start" >Д/с на 220 мест</text>
<text transform="translate(558.4 644.07) scale(0.9 1)" font-size="3.2" fill="#888" font-weight="normal" text-anchor="start" >Срок ввода в эксплуатацию</text>
<text transform="translate(558.4 648.38) scale(0.9 1)" font-size="3.2" fill="#888" font-weight="normal" text-anchor="start" >II кв. 2021</text>
<rect x="550.7" y="651" width="33.4" height="15.3" rx="1.6" fill="#fff" stroke="#dcdcdc" stroke-width="0.6"/>
<text transform="translate(552.5 654.67) scale(0.9 1)" font-size="3.2" fill="#888" font-weight="normal" text-anchor="start" >Школа на 1 100 мест</text>
<text transform="translate(552.5 659.38) scale(0.9 1)" font-size="3.2" fill="#888" font-weight="normal" text-anchor="start" >Срок ввода в эксплуатацию</text>
<text transform="translate(552.5 664.09) scale(0.9 1)" font-size="3.2" fill="#888" font-weight="normal" text-anchor="start" >II кв. 2021</text>
<rect x="569.8" y="667.2" width="24.8" height="8.6" rx="1.6" fill="#fff" stroke="#dcdcdc" stroke-width="0.6"/>
<text transform="translate(571.6 670.18) scale(0.9 1)" font-size="3.4" fill="#888" font-weight="normal" text-anchor="start" >Д/с на 220 мест</text>
<text transform="translate(571.6 674) scale(0.9 1)" font-size="3.4" fill="#888" font-weight="normal" text-anchor="start" >Сдан</text>
<rect x="703.6" y="567.4" width="34.4" height="10.6" rx="1.6" fill="#fff" stroke="#dcdcdc" stroke-width="0.6"/>
<text transform="translate(705.4 571.07) scale(0.9 1)" font-size="3.6" fill="#888" font-weight="normal" text-anchor="start" >Д/с на 190 мест</text>
<text transform="translate(705.4 575.79) scale(0.9 1)" font-size="3.6" fill="#888" font-weight="normal" text-anchor="start" >Сдан</text>
<rect x="726" y="599.6" width="32.6" height="10.8" rx="1.6" fill="#fff" stroke="#dcdcdc" stroke-width="0.6"/>
<text transform="translate(727.8 603.34) scale(0.9 1)" font-size="3.6" fill="#888" font-weight="normal" text-anchor="start" >Д/с на 190 мест</text>
<text transform="translate(727.8 608.14) scale(0.9 1)" font-size="3.6" fill="#888" font-weight="normal" text-anchor="start" >Сдан</text>
<rect x="690.6" y="586.6" width="38.4" height="8" rx="1.6" fill="#fff" stroke="#dcdcdc" stroke-width="0.6"/>
<text transform="translate(692.4 591.59) scale(0.9 1)" font-size="4.3" fill="#3c3c46" font-weight="bold" text-anchor="start" >Школа на 1 375 мест</text>
<text x="421.6" y="652.4" font-size="4" fill="#4a4a55" font-weight="bold" text-anchor="start" >Д/с</text>
<text x="421.6" y="657" font-size="3.8" fill="#4a4a55" font-weight="bold" text-anchor="start" >на 140 мест</text>
<text x="452.4" y="659.6" font-size="4" fill="#4a4a55" font-weight="bold" text-anchor="start" >Школа</text>
<text x="452.4" y="664" font-size="3.8" fill="#4a4a55" font-weight="bold" text-anchor="start" >на 1 375 мест</text>
<text x="531.4" y="648.4" font-size="4" fill="#4a4a55" font-weight="bold" text-anchor="start" >Д/с</text>
<text x="524.6" y="653.4" font-size="3.8" fill="#4a4a55" font-weight="bold" text-anchor="start" >на 110 мест</text>
<text x="496.2" y="711" font-size="4.6" fill="#77777f" font-weight="normal" text-anchor="start" >Верхне-Камская ул.</text>
<text x="603.6" y="650.4" font-size="3.4" fill="#77777f" font-weight="normal" text-anchor="start" >Площадь</text>
<text x="603.6" y="654.2" font-size="3.4" fill="#77777f" font-weight="normal" text-anchor="start" >Солнца</text>
<text x="633.4" y="640.6" font-size="3.2" fill="#55627a" font-weight="normal" text-anchor="start" >Проектируемая</text>
<text x="633.4" y="644.2" font-size="3.2" fill="#55627a" font-weight="normal" text-anchor="start" >станция метро</text>
<text transform="translate(658 523.6) rotate(-17)" font-size="4" fill="#666" text-anchor="start">Арцеуловская аллея</text>
<text transform="translate(751.6 578) rotate(63)" font-size="3.8" fill="#777" text-anchor="start">пр. Королёва</text>
<text transform="translate(604.6 574) rotate(57)" font-size="3.4" fill="#777" text-anchor="start">Комендантский пр.</text>
<text transform="translate(706 688) rotate(-30)" font-size="3.8" fill="#777" text-anchor="start">ул. Плесецкая</text>
<circle cx="435.4" cy="647" r="4.8" fill="#1f7cc6" stroke="#fff" stroke-width="0.8"/>
<path d="M433 648.8 Q435.4 650.6 438 648.6 M433.8 648.4 L434.4 646.4 L436.4 646.6 L437 648.4 M436.2 646.4 L437.2 644.6 L438.2 645.6" fill="none" stroke="#fff" stroke-width="0.9" stroke-linecap="round"/>
<circle cx="472.6" cy="652.4" r="5.2" fill="#e9532d" stroke="#fff" stroke-width="0.8"/>
<rect x="470" y="650.5" width="5.2" height="3.8" rx="0.6" fill="#fff"/>
<line x1="472.6" y1="650.5" x2="472.6" y2="654.3" stroke="#e9532d" stroke-width="0.6"/>
<circle cx="525.6" cy="647.6" r="5.4" fill="#1f7cc6" stroke="#fff" stroke-width="0.8"/>
<path d="M523.2 649.4 Q525.6 651.2 528.2 649.2 M524 649 L524.6 647 L526.6 647.2 L527.2 649 M526.4 647 L527.4 645.2 L528.4 646.2" fill="none" stroke="#fff" stroke-width="0.9" stroke-linecap="round"/>
<circle cx="587.2" cy="635.8" r="5.4" fill="#1f7cc6" stroke="#fff" stroke-width="0.8"/>
<path d="M584.8 637.6 Q587.2 639.4 589.8 637.4 M585.6 637.2 L586.2 635.2 L588.2 635.4 L588.8 637.2 M588 635.2 L589 633.4 L590 634.4" fill="none" stroke="#fff" stroke-width="0.9" stroke-linecap="round"/>
<circle cx="598.5" cy="673.9" r="5.4" fill="#1f7cc6" stroke="#fff" stroke-width="0.8"/>
<path d="M596.1 675.7 Q598.5 677.5 601.1 675.5 M596.9 675.3 L597.5 673.3 L599.5 673.5 L600.1 675.3 M599.3 673.3 L600.3 671.5 L601.3 672.5" fill="none" stroke="#fff" stroke-width="0.9" stroke-linecap="round"/>
<circle cx="546.8" cy="663.4" r="5.2" fill="#e9532d" stroke="#fff" stroke-width="0.8"/>
<rect x="544.2" y="661.5" width="5.2" height="3.8" rx="0.6" fill="#fff"/>
<line x1="546.8" y1="661.5" x2="546.8" y2="665.3" stroke="#e9532d" stroke-width="0.6"/>
<circle cx="696.6" cy="574.6" r="5.6" fill="#1f7cc6" stroke="#fff" stroke-width="0.8"/>
<path d="M694.2 576.4 Q696.6 578.2 699.2 576.2 M695 576 L695.6 574 L697.6 574.2 L698.2 576 M697.4 574 L698.4 572.2 L699.4 573.2" fill="none" stroke="#fff" stroke-width="0.9" stroke-linecap="round"/>
<circle cx="717.6" cy="609" r="5.6" fill="#1f7cc6" stroke="#fff" stroke-width="0.8"/>
<path d="M715.2 610.8 Q717.6 612.6 720.2 610.6 M716 610.4 L716.6 608.4 L718.6 608.6 L719.2 610.4 M718.4 608.4 L719.4 606.6 L720.4 607.6" fill="none" stroke="#fff" stroke-width="0.9" stroke-linecap="round"/>
<circle cx="679.4" cy="593.6" r="5.4" fill="#e9532d" stroke="#fff" stroke-width="0.8"/>
<rect x="676.8" y="591.7" width="5.2" height="3.8" rx="0.6" fill="#fff"/>
<line x1="679.4" y1="591.7" x2="679.4" y2="595.5" stroke="#e9532d" stroke-width="0.6"/>
<rect x="591.8" y="645.8" width="9" height="8.8" rx="1" fill="#f2a544"/>
<rect x="594.4" y="648.4" width="3.8" height="3.6" fill="#fff"/>
<rect x="634.6" y="627" width="9.4" height="9" rx="1" fill="#1c2b63"/>
<circle cx="639.3" cy="631.5" r="2.6" fill="none" stroke="#fff" stroke-width="0.9"/>
<rect x="736.8" y="699.6" width="7" height="3" fill="#c8283a"/>
<text transform="translate(747.3 702.6) scale(0.88 1)" font-size="4.2" fill="#3c3c46" font-weight="normal" text-anchor="start" >Коммерческие помещения</text>
<text transform="translate(747.3 706.9) scale(0.88 1)" font-size="4.2" fill="#3c3c46" font-weight="normal" text-anchor="start" >(встроенные на 1 этаже)</text>
<line x1="737.4" y1="711.7" x2="741.8" y2="711.7" stroke="#777" stroke-width="0.5" />
<polygon points="741.4,710.6 743.6,711.7 741.4,712.8" fill="#9a9aa2"/>
<text transform="translate(747.3 713.1) scale(0.88 1)" font-size="4.2" fill="#3c3c46" font-weight="normal" text-anchor="start" >Вход в коммерческие помещения</text>
<line x1="737.4" y1="717.7" x2="741.8" y2="717.7" stroke="#777" stroke-width="0.5" />
<polygon points="741.4,716.6 743.6,717.7 741.4,718.8" fill="#333"/>
<text transform="translate(747.3 719.1) scale(0.88 1)" font-size="4.2" fill="#3c3c46" font-weight="normal" text-anchor="start" >Вход в подъезд</text>
<line x1="737.4" y1="724" x2="741.8" y2="724" stroke="#777" stroke-width="0.5" />
<polygon points="741.4,722.9 743.6,724 741.4,725.1" fill="#1c2b63"/>
<text transform="translate(747.3 725.4) scale(0.88 1)" font-size="4.2" fill="#3c3c46" font-weight="normal" text-anchor="start" >Въезд в паркинг</text>
<rect x="737.1999999999999" y="722.9" width="1.8" height="1.8" fill="#222"/>
<line x1="734.8" y1="730.2" x2="743.8" y2="730.2" stroke="#d0d0d6" stroke-width="0.7" />
<text transform="translate(747.3 731.7) scale(0.88 1)" font-size="4.2" fill="#3c3c46" font-weight="normal" text-anchor="start" >Ограждения</text>
<rect x="739.1999999999999" y="733.8" width="4" height="4" fill="#8f8f8f"/>
<text transform="translate(747.3 737.6) scale(0.88 1)" font-size="4.2" fill="#3c3c46" font-weight="normal" text-anchor="start" >Закрытый двор без машин</text>
<rect x="735.8" y="740.6" width="7.6" height="2.4" fill="#f2f3cf"/>
<text transform="translate(747.3 743.3) scale(0.88 1)" font-size="4.2" fill="#3c3c46" font-weight="normal" text-anchor="start" >Пешеходная аллея</text>
<rect x="754.8" y="508.8" width="23.8" height="23.6" fill="none" stroke="#cf646c" stroke-width="1.2"/>
<text x="757.8" y="523.2" font-size="10.8" font-weight="bold" fill="#6b6b6b" text-anchor="start">Setl<tspan fill="#cf646c" font-weight="normal">|</tspan>City</text>
<polygon points="783.3,552.6 784.5,564.0 795.9,565.2 784.5,566.4000000000001 783.3,577.8000000000001 782.0999999999999,566.4000000000001 770.6999999999999,565.2 782.0999999999999,564.0" fill="#444"/>
<text x="783.3" y="549.8" font-size="3.2" fill="#888" font-weight="normal" text-anchor="middle" >С</text>
<text x="783.3" y="583.6" font-size="3.2" fill="#888" font-weight="normal" text-anchor="middle" >Ю</text>
<text x="766.7" y="566.4" font-size="3.2" fill="#888" font-weight="normal" text-anchor="middle" >З</text>
<text x="799.9" y="566.4" font-size="3.2" fill="#888" font-weight="normal" text-anchor="middle" >В</text>
<rect x="432.4" y="501.8" width="34.6" height="34.2" fill="#fff" stroke="#3a4668" stroke-width="0.7"/>
<rect x="426" y="508" width="16" height="30" fill="#fff"/>
<rect x="458" y="520" width="14" height="10" fill="#fff"/>
<text transform="translate(449.6 520.2) rotate(-12) skewX(-10)" style="font-family:'Liberation Serif',serif;font-style:italic" font-size="15.6" fill="#1b2a5e" stroke="#1b2a5e" stroke-width="0.35" text-anchor="middle">Чистое</text>
<text transform="translate(452.8 534) rotate(-12) skewX(-10)" style="font-family:'Liberation Serif',serif;font-style:italic" font-size="16.4" fill="#1b2a5e" stroke="#1b2a5e" stroke-width="0.35" text-anchor="middle">небо</text>
<text x="449.6" y="539.6" font-size="2.4" fill="#888" font-weight="normal" text-anchor="middle" >Квартал · Сеть Сити Город</text>
<circle cx="417" cy="526" r="2.2" fill="#e8462e"/>
<circle cx="418.6" cy="529.6" r="2.2" fill="#f2a02a"/>
<circle cx="420.6" cy="533" r="2.4" fill="#2a9a58"/>
<circle cx="423" cy="536.4" r="2.4" fill="#e23a7a"/>
<circle cx="425.6" cy="539.6" r="2.6" fill="#2a6ac2"/>
<circle cx="421.4" cy="541.6" r="2.2" fill="#f2c42a"/>
<circle cx="417.6" cy="543.4" r="2.2" fill="#8a3aa8"/>
<circle cx="428.6" cy="543" r="2.4" fill="#e8462e"/>
<circle cx="431.4" cy="546.2" r="2.4" fill="#2a9a58"/>
<circle cx="434" cy="549.4" r="2.2" fill="#2a6ac2"/>
<circle cx="436.4" cy="552" r="1.8" fill="#e23a7a"/>
<circle cx="424" cy="532" r="1.8" fill="#f2a02a"/>
</g>
</g>
</svg>
</body>
</html>
